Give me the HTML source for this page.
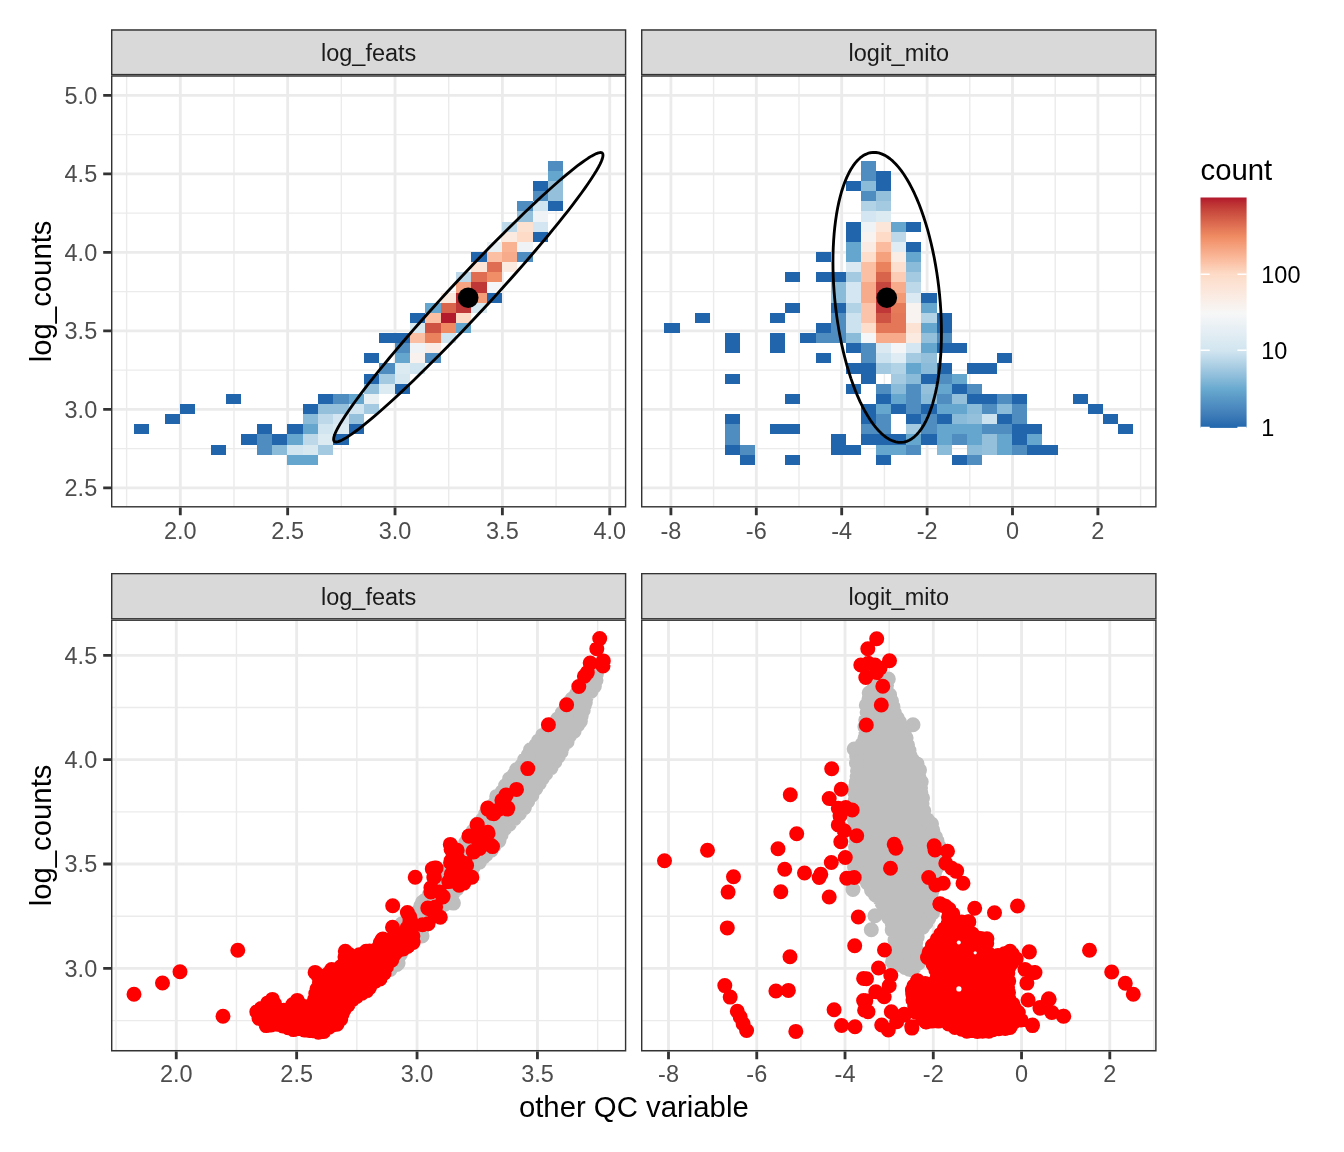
<!DOCTYPE html>
<html><head><meta charset="utf-8"><title>QC plot</title>
<style>html,body{margin:0;padding:0;background:#fff;}svg{display:block;will-change:transform;}text{font-family:"Liberation Sans", sans-serif;}</style></head><body>
<svg width="1344" height="1152" viewBox="0 0 1344 1152">
<rect x="0" y="0" width="1344" height="1152" fill="#FFFFFF"/>
<defs><linearGradient id="cb" x1="0" y1="1" x2="0" y2="0"><stop offset="0.0000" stop-color="#2166AC"/><stop offset="0.0278" stop-color="#3171B2"/><stop offset="0.0556" stop-color="#3E7CB8"/><stop offset="0.0833" stop-color="#4987BE"/><stop offset="0.1111" stop-color="#5392C3"/><stop offset="0.1389" stop-color="#5D9DC9"/><stop offset="0.1667" stop-color="#67A9CF"/><stop offset="0.1944" stop-color="#7BB3D5"/><stop offset="0.2222" stop-color="#8DBDDA"/><stop offset="0.2500" stop-color="#9FC7E0"/><stop offset="0.2778" stop-color="#B0D1E5"/><stop offset="0.3056" stop-color="#C0DBEB"/><stop offset="0.3333" stop-color="#D1E5F0"/><stop offset="0.3611" stop-color="#D7E8F1"/><stop offset="0.3889" stop-color="#DEEBF2"/><stop offset="0.4167" stop-color="#E4EEF4"/><stop offset="0.4444" stop-color="#EAF1F5"/><stop offset="0.4722" stop-color="#F1F4F6"/><stop offset="0.5000" stop-color="#F7F7F7"/><stop offset="0.5278" stop-color="#F8F2EF"/><stop offset="0.5556" stop-color="#FAEEE7"/><stop offset="0.5833" stop-color="#FBE9DF"/><stop offset="0.6111" stop-color="#FCE4D7"/><stop offset="0.6389" stop-color="#FCE0CF"/><stop offset="0.6667" stop-color="#FDDBC7"/><stop offset="0.6944" stop-color="#FCCEB6"/><stop offset="0.7222" stop-color="#FBC0A4"/><stop offset="0.7500" stop-color="#F9B393"/><stop offset="0.7778" stop-color="#F6A583"/><stop offset="0.8056" stop-color="#F39872"/><stop offset="0.8333" stop-color="#EF8A62"/><stop offset="0.8611" stop-color="#E57A58"/><stop offset="0.8889" stop-color="#DB694F"/><stop offset="0.9167" stop-color="#D15845"/><stop offset="0.9444" stop-color="#C7463C"/><stop offset="0.9722" stop-color="#BD3233"/><stop offset="1.0000" stop-color="#B2182B"/></linearGradient>
<clipPath id="p1"><rect x="111.00" y="75.30" width="515.30" height="432.20"/></clipPath>
<clipPath id="p2"><rect x="641.00" y="75.30" width="515.60" height="432.20"/></clipPath>
<clipPath id="p3"><rect x="111.00" y="619.50" width="515.30" height="431.90"/></clipPath>
<clipPath id="p4"><rect x="641.00" y="619.50" width="515.60" height="431.90"/></clipPath>
<clipPath id="s1"><rect x="111.00" y="29.30" width="515.30" height="46.00"/></clipPath>
<clipPath id="s2"><rect x="641.00" y="29.30" width="515.60" height="46.00"/></clipPath>
<clipPath id="s3"><rect x="111.00" y="572.90" width="515.30" height="46.60"/></clipPath>
<clipPath id="s4"><rect x="641.00" y="572.90" width="515.60" height="46.60"/></clipPath>
</defs>
<g clip-path="url(#p1)">
<rect x="111.00" y="75.30" width="515.30" height="432.20" fill="#FFFFFF"/>
<path d="M111.00 134.65H626.30M111.00 213.13H626.30M111.00 291.62H626.30M111.00 370.12H626.30M111.00 448.61H626.30M126.62 75.30V507.50M233.98 75.30V507.50M341.34 75.30V507.50M448.70 75.30V507.50M556.06 75.30V507.50" stroke="#EBEBEB" stroke-width="1.42" fill="none"/>
<path d="M111.00 95.40H626.30M111.00 173.89H626.30M111.00 252.38H626.30M111.00 330.87H626.30M111.00 409.36H626.30M111.00 487.85H626.30M180.30 75.30V507.50M287.66 75.30V507.50M395.02 75.30V507.50M502.38 75.30V507.50M609.74 75.30V507.50" stroke="#EBEBEB" stroke-width="2.84" fill="none"/>
<g shape-rendering="crispEdges">
<rect x="134" y="424" width="15" height="10" fill="#2166AC"/>
<rect x="165" y="414" width="15" height="10" fill="#2166AC"/>
<rect x="180" y="404" width="15" height="10" fill="#2166AC"/>
<rect x="211" y="445" width="15" height="10" fill="#2166AC"/>
<rect x="226" y="394" width="15" height="10" fill="#2166AC"/>
<rect x="241" y="434" width="16" height="11" fill="#2166AC"/>
<rect x="257" y="445" width="15" height="10" fill="#4F8DC1"/>
<rect x="257" y="434" width="15" height="11" fill="#4F8DC1"/>
<rect x="257" y="424" width="15" height="10" fill="#2166AC"/>
<rect x="272" y="445" width="15" height="10" fill="#8ABBD9"/>
<rect x="272" y="434" width="15" height="11" fill="#2166AC"/>
<rect x="287" y="455" width="16" height="10" fill="#64A6CD"/>
<rect x="287" y="445" width="16" height="10" fill="#D1E5F0"/>
<rect x="287" y="434" width="16" height="11" fill="#64A6CD"/>
<rect x="287" y="424" width="16" height="10" fill="#2166AC"/>
<rect x="303" y="455" width="15" height="10" fill="#64A6CD"/>
<rect x="303" y="445" width="15" height="10" fill="#D7E8F1"/>
<rect x="303" y="434" width="15" height="11" fill="#BDD9E9"/>
<rect x="303" y="424" width="15" height="10" fill="#64A6CD"/>
<rect x="303" y="414" width="15" height="10" fill="#8ABBD9"/>
<rect x="303" y="404" width="15" height="10" fill="#2166AC"/>
<rect x="318" y="445" width="15" height="10" fill="#A4CAE1"/>
<rect x="318" y="434" width="15" height="11" fill="#DCEAF2"/>
<rect x="318" y="424" width="15" height="10" fill="#D1E5F0"/>
<rect x="318" y="414" width="15" height="10" fill="#BDD9E9"/>
<rect x="318" y="404" width="15" height="10" fill="#94C0DC"/>
<rect x="318" y="394" width="15" height="10" fill="#2166AC"/>
<rect x="333" y="434" width="16" height="11" fill="#2166AC"/>
<rect x="333" y="424" width="16" height="10" fill="#DCEAF2"/>
<rect x="333" y="414" width="16" height="10" fill="#D4E6F1"/>
<rect x="333" y="404" width="16" height="10" fill="#94C0DC"/>
<rect x="333" y="394" width="16" height="10" fill="#4F8DC1"/>
<rect x="349" y="424" width="15" height="10" fill="#2166AC"/>
<rect x="349" y="414" width="15" height="10" fill="#94C0DC"/>
<rect x="349" y="404" width="15" height="10" fill="#D1E5F0"/>
<rect x="349" y="394" width="15" height="10" fill="#64A6CD"/>
<rect x="364" y="404" width="15" height="10" fill="#A4CAE1"/>
<rect x="364" y="394" width="15" height="10" fill="#E8F0F4"/>
<rect x="364" y="384" width="15" height="10" fill="#94C0DC"/>
<rect x="364" y="374" width="15" height="10" fill="#2166AC"/>
<rect x="364" y="353" width="15" height="10" fill="#2166AC"/>
<rect x="379" y="384" width="16" height="10" fill="#DCEAF2"/>
<rect x="379" y="374" width="16" height="10" fill="#A4CAE1"/>
<rect x="379" y="363" width="16" height="11" fill="#4F8DC1"/>
<rect x="379" y="333" width="16" height="10" fill="#2166AC"/>
<rect x="395" y="384" width="15" height="10" fill="#2166AC"/>
<rect x="395" y="374" width="15" height="10" fill="#D7E8F1"/>
<rect x="395" y="363" width="15" height="11" fill="#DCEAF2"/>
<rect x="395" y="353" width="15" height="10" fill="#64A6CD"/>
<rect x="395" y="343" width="15" height="10" fill="#4F8DC1"/>
<rect x="395" y="333" width="15" height="10" fill="#2166AC"/>
<rect x="410" y="363" width="15" height="11" fill="#D1E5F0"/>
<rect x="410" y="353" width="15" height="10" fill="#F9F1ED"/>
<rect x="410" y="343" width="15" height="10" fill="#EFF3F6"/>
<rect x="410" y="333" width="15" height="10" fill="#FBBFA3"/>
<rect x="410" y="323" width="15" height="10" fill="#D7E8F1"/>
<rect x="410" y="313" width="15" height="10" fill="#2166AC"/>
<rect x="425" y="353" width="16" height="10" fill="#4F8DC1"/>
<rect x="425" y="343" width="16" height="10" fill="#FAECE4"/>
<rect x="425" y="333" width="16" height="10" fill="#EA825D"/>
<rect x="425" y="323" width="16" height="10" fill="#CF5343"/>
<rect x="425" y="313" width="16" height="10" fill="#FBBFA3"/>
<rect x="425" y="303" width="16" height="10" fill="#64A6CD"/>
<rect x="441" y="333" width="15" height="10" fill="#D1E5F0"/>
<rect x="441" y="323" width="15" height="10" fill="#EF8A62"/>
<rect x="441" y="313" width="15" height="10" fill="#B31A2C"/>
<rect x="441" y="303" width="15" height="10" fill="#D8644C"/>
<rect x="441" y="293" width="15" height="10" fill="#FBE8DC"/>
<rect x="456" y="323" width="15" height="10" fill="#64A6CD"/>
<rect x="456" y="313" width="15" height="10" fill="#FDDBC7"/>
<rect x="456" y="303" width="15" height="10" fill="#BF3736"/>
<rect x="456" y="293" width="15" height="10" fill="#B92A30"/>
<rect x="456" y="282" width="15" height="11" fill="#F6A482"/>
<rect x="456" y="272" width="15" height="10" fill="#BDD9E9"/>
<rect x="471" y="303" width="16" height="10" fill="#D7E8F1"/>
<rect x="471" y="293" width="16" height="10" fill="#F49B77"/>
<rect x="471" y="282" width="16" height="11" fill="#BF3736"/>
<rect x="471" y="272" width="16" height="10" fill="#DE6D51"/>
<rect x="471" y="262" width="16" height="10" fill="#FCE4D6"/>
<rect x="471" y="252" width="16" height="10" fill="#2166AC"/>
<rect x="487" y="293" width="15" height="10" fill="#2166AC"/>
<rect x="487" y="282" width="15" height="11" fill="#F5F6F7"/>
<rect x="487" y="272" width="15" height="10" fill="#F08F67"/>
<rect x="487" y="262" width="15" height="10" fill="#DE6D51"/>
<rect x="487" y="252" width="15" height="10" fill="#FBBFA3"/>
<rect x="487" y="242" width="15" height="10" fill="#E8F0F4"/>
<rect x="502" y="262" width="15" height="10" fill="#FBEAE0"/>
<rect x="502" y="252" width="15" height="10" fill="#F7AB8A"/>
<rect x="502" y="242" width="15" height="10" fill="#F9B393"/>
<rect x="502" y="232" width="15" height="10" fill="#FBEAE0"/>
<rect x="502" y="222" width="15" height="10" fill="#BDD9E9"/>
<rect x="517" y="252" width="16" height="10" fill="#4F8DC1"/>
<rect x="517" y="242" width="16" height="10" fill="#EFF3F6"/>
<rect x="517" y="232" width="16" height="10" fill="#FDDBC7"/>
<rect x="517" y="222" width="16" height="10" fill="#FCE1D1"/>
<rect x="517" y="211" width="16" height="11" fill="#94C0DC"/>
<rect x="517" y="201" width="16" height="10" fill="#4F8DC1"/>
<rect x="533" y="232" width="15" height="10" fill="#2166AC"/>
<rect x="533" y="222" width="15" height="10" fill="#D4E6F1"/>
<rect x="533" y="211" width="15" height="11" fill="#EFF3F6"/>
<rect x="533" y="201" width="15" height="10" fill="#D1E5F0"/>
<rect x="533" y="191" width="15" height="10" fill="#4F8DC1"/>
<rect x="533" y="181" width="15" height="10" fill="#2166AC"/>
<rect x="548" y="201" width="15" height="10" fill="#2166AC"/>
<rect x="548" y="191" width="15" height="10" fill="#94C0DC"/>
<rect x="548" y="181" width="15" height="10" fill="#94C0DC"/>
<rect x="548" y="171" width="15" height="10" fill="#64A6CD"/>
<rect x="548" y="161" width="15" height="10" fill="#4F8DC1"/>
</g>
<path d="M603.00 155.19L602.82 153.93L602.26 153.07L601.34 152.59L600.06 152.52L598.41 152.84L596.41 153.56L594.05 154.67L591.35 156.17L588.32 158.06L584.95 160.33L581.27 162.98L577.27 165.99L572.98 169.36L568.40 173.09L563.55 177.15L558.43 181.54L553.07 186.25L547.47 191.27L541.66 196.57L535.65 202.16L529.45 208.00L523.09 214.08L516.57 220.40L509.92 226.92L503.16 233.64L496.31 240.53L489.37 247.58L482.38 254.76L475.35 262.07L468.30 269.46L461.25 276.93L454.22 284.46L447.23 292.03L440.29 299.60L433.44 307.18L426.68 314.72L420.03 322.22L413.51 329.64L407.15 336.98L400.95 344.21L394.94 351.31L389.13 358.27L383.53 365.05L378.17 371.65L373.05 378.05L368.20 384.23L363.62 390.16L359.33 395.84L355.33 401.26L351.65 406.38L348.28 411.21L345.25 415.72L342.55 419.91L340.19 423.77L338.19 427.28L336.54 430.43L335.26 433.21L334.34 435.62L333.78 437.66L333.60 439.31L333.78 440.57L334.34 441.43L335.26 441.91L336.54 441.98L338.19 441.66L340.19 440.94L342.55 439.83L345.25 438.33L348.28 436.44L351.65 434.17L355.33 431.52L359.33 428.51L363.62 425.14L368.20 421.41L373.05 417.35L378.17 412.96L383.53 408.25L389.13 403.23L394.94 397.93L400.95 392.34L407.15 386.50L413.51 380.42L420.03 374.10L426.68 367.58L433.44 360.86L440.29 353.97L447.23 346.92L454.22 339.74L461.25 332.43L468.30 325.04L475.35 317.57L482.38 310.04L489.37 302.47L496.31 294.90L503.16 287.32L509.92 279.78L516.57 272.28L523.09 264.86L529.45 257.52L535.65 250.29L541.66 243.19L547.47 236.23L553.07 229.45L558.43 222.85L563.55 216.45L568.40 210.27L572.98 204.34L577.27 198.66L581.27 193.24L584.95 188.12L588.32 183.29L591.35 178.78L594.05 174.59L596.41 170.73L598.41 167.22L600.06 164.07L601.34 161.29L602.26 158.88L602.82 156.84Z" fill="none" stroke="#000" stroke-width="2.84" stroke-linejoin="round"/>
<circle cx="468.20" cy="297.70" r="10.30" fill="#000"/>
<rect x="111.00" y="75.30" width="515.30" height="432.20" fill="none" stroke="#333333" stroke-width="2.84"/>
</g>
<g clip-path="url(#p2)">
<rect x="641.00" y="75.30" width="515.60" height="432.20" fill="#FFFFFF"/>
<path d="M641.00 134.65H1156.60M641.00 213.13H1156.60M641.00 291.62H1156.60M641.00 370.12H1156.60M641.00 448.61H1156.60M713.60 75.30V507.50M799.00 75.30V507.50M884.40 75.30V507.50M969.80 75.30V507.50M1055.20 75.30V507.50M1140.60 75.30V507.50" stroke="#EBEBEB" stroke-width="1.42" fill="none"/>
<path d="M641.00 95.40H1156.60M641.00 173.89H1156.60M641.00 252.38H1156.60M641.00 330.87H1156.60M641.00 409.36H1156.60M641.00 487.85H1156.60M670.90 75.30V507.50M756.30 75.30V507.50M841.70 75.30V507.50M927.10 75.30V507.50M1012.50 75.30V507.50M1097.90 75.30V507.50" stroke="#EBEBEB" stroke-width="2.84" fill="none"/>
<g shape-rendering="crispEdges">
<rect x="664" y="323" width="16" height="10" fill="#2166AC"/>
<rect x="695" y="313" width="15" height="10" fill="#2166AC"/>
<rect x="725" y="445" width="15" height="10" fill="#2166AC"/>
<rect x="725" y="434" width="15" height="11" fill="#4F8DC1"/>
<rect x="725" y="424" width="15" height="10" fill="#4F8DC1"/>
<rect x="725" y="414" width="15" height="10" fill="#2166AC"/>
<rect x="725" y="374" width="15" height="10" fill="#2166AC"/>
<rect x="725" y="343" width="15" height="10" fill="#2166AC"/>
<rect x="725" y="333" width="15" height="10" fill="#2166AC"/>
<rect x="740" y="455" width="15" height="10" fill="#2166AC"/>
<rect x="740" y="445" width="15" height="10" fill="#4F8DC1"/>
<rect x="770" y="424" width="15" height="10" fill="#2166AC"/>
<rect x="770" y="343" width="15" height="10" fill="#2166AC"/>
<rect x="770" y="333" width="15" height="10" fill="#2166AC"/>
<rect x="770" y="313" width="15" height="10" fill="#2166AC"/>
<rect x="785" y="455" width="15" height="10" fill="#2166AC"/>
<rect x="785" y="424" width="15" height="10" fill="#2166AC"/>
<rect x="785" y="394" width="15" height="10" fill="#2166AC"/>
<rect x="785" y="303" width="15" height="10" fill="#2166AC"/>
<rect x="785" y="272" width="15" height="10" fill="#2166AC"/>
<rect x="800" y="333" width="16" height="10" fill="#2166AC"/>
<rect x="816" y="353" width="15" height="10" fill="#2166AC"/>
<rect x="816" y="333" width="15" height="10" fill="#4F8DC1"/>
<rect x="816" y="323" width="15" height="10" fill="#2166AC"/>
<rect x="816" y="272" width="15" height="10" fill="#2166AC"/>
<rect x="816" y="252" width="15" height="10" fill="#2166AC"/>
<rect x="831" y="445" width="15" height="10" fill="#2166AC"/>
<rect x="831" y="434" width="15" height="11" fill="#2166AC"/>
<rect x="831" y="333" width="15" height="10" fill="#4F8DC1"/>
<rect x="831" y="323" width="15" height="10" fill="#4F8DC1"/>
<rect x="831" y="313" width="15" height="10" fill="#4F8DC1"/>
<rect x="831" y="303" width="15" height="10" fill="#2166AC"/>
<rect x="831" y="293" width="15" height="10" fill="#8ABBD9"/>
<rect x="831" y="282" width="15" height="11" fill="#8ABBD9"/>
<rect x="831" y="272" width="15" height="10" fill="#2166AC"/>
<rect x="846" y="445" width="15" height="10" fill="#2166AC"/>
<rect x="846" y="384" width="15" height="10" fill="#2166AC"/>
<rect x="846" y="363" width="15" height="11" fill="#2166AC"/>
<rect x="846" y="343" width="15" height="10" fill="#2166AC"/>
<rect x="846" y="333" width="15" height="10" fill="#8ABBD9"/>
<rect x="846" y="323" width="15" height="10" fill="#CCE2EE"/>
<rect x="846" y="313" width="15" height="10" fill="#CCE2EE"/>
<rect x="846" y="303" width="15" height="10" fill="#B2D2E6"/>
<rect x="846" y="293" width="15" height="10" fill="#D4E6F1"/>
<rect x="846" y="282" width="15" height="11" fill="#D4E6F1"/>
<rect x="846" y="272" width="15" height="10" fill="#A4CAE1"/>
<rect x="846" y="262" width="15" height="10" fill="#DAE9F2"/>
<rect x="846" y="252" width="15" height="10" fill="#64A6CD"/>
<rect x="846" y="242" width="15" height="10" fill="#64A6CD"/>
<rect x="846" y="232" width="15" height="10" fill="#2166AC"/>
<rect x="846" y="222" width="15" height="10" fill="#2166AC"/>
<rect x="846" y="181" width="15" height="10" fill="#2166AC"/>
<rect x="861" y="434" width="15" height="11" fill="#2166AC"/>
<rect x="861" y="424" width="15" height="10" fill="#4F8DC1"/>
<rect x="861" y="414" width="15" height="10" fill="#2166AC"/>
<rect x="861" y="404" width="15" height="10" fill="#2166AC"/>
<rect x="861" y="374" width="15" height="10" fill="#2166AC"/>
<rect x="861" y="363" width="15" height="11" fill="#2166AC"/>
<rect x="861" y="353" width="15" height="10" fill="#4F8DC1"/>
<rect x="861" y="343" width="15" height="10" fill="#4F8DC1"/>
<rect x="861" y="333" width="15" height="10" fill="#F5F6F7"/>
<rect x="861" y="323" width="15" height="10" fill="#FDDECC"/>
<rect x="861" y="313" width="15" height="10" fill="#FBC4AA"/>
<rect x="861" y="303" width="15" height="10" fill="#FBC4AA"/>
<rect x="861" y="293" width="15" height="10" fill="#F7AB8A"/>
<rect x="861" y="282" width="15" height="11" fill="#F7AB8A"/>
<rect x="861" y="272" width="15" height="10" fill="#FBBFA3"/>
<rect x="861" y="262" width="15" height="10" fill="#FBBFA3"/>
<rect x="861" y="252" width="15" height="10" fill="#FDDECC"/>
<rect x="861" y="242" width="15" height="10" fill="#FAECE4"/>
<rect x="861" y="232" width="15" height="10" fill="#F8F3F0"/>
<rect x="861" y="222" width="15" height="10" fill="#EFF3F6"/>
<rect x="861" y="211" width="15" height="11" fill="#D4E6F1"/>
<rect x="861" y="201" width="15" height="10" fill="#B2D2E6"/>
<rect x="861" y="191" width="15" height="10" fill="#4F8DC1"/>
<rect x="861" y="181" width="15" height="10" fill="#8ABBD9"/>
<rect x="861" y="171" width="15" height="10" fill="#4F8DC1"/>
<rect x="861" y="161" width="15" height="10" fill="#4F8DC1"/>
<rect x="876" y="455" width="15" height="10" fill="#2166AC"/>
<rect x="876" y="445" width="15" height="10" fill="#64A6CD"/>
<rect x="876" y="434" width="15" height="11" fill="#2166AC"/>
<rect x="876" y="424" width="15" height="10" fill="#4F8DC1"/>
<rect x="876" y="414" width="15" height="10" fill="#4F8DC1"/>
<rect x="876" y="404" width="15" height="10" fill="#64A6CD"/>
<rect x="876" y="394" width="15" height="10" fill="#2166AC"/>
<rect x="876" y="384" width="15" height="10" fill="#4F8DC1"/>
<rect x="876" y="363" width="15" height="11" fill="#A4CAE1"/>
<rect x="876" y="353" width="15" height="10" fill="#CCE2EE"/>
<rect x="876" y="343" width="15" height="10" fill="#DAE9F2"/>
<rect x="876" y="333" width="15" height="10" fill="#F7AB8A"/>
<rect x="876" y="323" width="15" height="10" fill="#E47757"/>
<rect x="876" y="313" width="15" height="10" fill="#CF5343"/>
<rect x="876" y="303" width="15" height="10" fill="#BF3736"/>
<rect x="876" y="293" width="15" height="10" fill="#BF3736"/>
<rect x="876" y="282" width="15" height="11" fill="#C6453C"/>
<rect x="876" y="272" width="15" height="10" fill="#D8644C"/>
<rect x="876" y="262" width="15" height="10" fill="#EA825D"/>
<rect x="876" y="252" width="15" height="10" fill="#F5A17E"/>
<rect x="876" y="242" width="15" height="10" fill="#FABB9E"/>
<rect x="876" y="232" width="15" height="10" fill="#FDDBC7"/>
<rect x="876" y="222" width="15" height="10" fill="#FBE6D9"/>
<rect x="876" y="211" width="15" height="11" fill="#DCEAF2"/>
<rect x="876" y="201" width="15" height="10" fill="#A4CAE1"/>
<rect x="876" y="191" width="15" height="10" fill="#94C0DC"/>
<rect x="876" y="181" width="15" height="10" fill="#2166AC"/>
<rect x="876" y="171" width="15" height="10" fill="#2166AC"/>
<rect x="891" y="445" width="15" height="10" fill="#64A6CD"/>
<rect x="891" y="434" width="15" height="11" fill="#2166AC"/>
<rect x="891" y="404" width="15" height="10" fill="#2166AC"/>
<rect x="891" y="394" width="15" height="10" fill="#64A6CD"/>
<rect x="891" y="384" width="15" height="10" fill="#8ABBD9"/>
<rect x="891" y="374" width="15" height="10" fill="#A4CAE1"/>
<rect x="891" y="363" width="15" height="11" fill="#B2D2E6"/>
<rect x="891" y="353" width="15" height="10" fill="#E0ECF3"/>
<rect x="891" y="343" width="15" height="10" fill="#F3F5F6"/>
<rect x="891" y="333" width="15" height="10" fill="#F7AB8A"/>
<rect x="891" y="323" width="15" height="10" fill="#E47757"/>
<rect x="891" y="313" width="15" height="10" fill="#E47757"/>
<rect x="891" y="303" width="15" height="10" fill="#E67B59"/>
<rect x="891" y="293" width="15" height="10" fill="#F39974"/>
<rect x="891" y="282" width="15" height="11" fill="#F7AB8A"/>
<rect x="891" y="272" width="15" height="10" fill="#FCCCB4"/>
<rect x="891" y="262" width="15" height="10" fill="#FCDFCE"/>
<rect x="891" y="252" width="15" height="10" fill="#FAEDE6"/>
<rect x="891" y="242" width="15" height="10" fill="#E0ECF3"/>
<rect x="891" y="232" width="15" height="10" fill="#BDD9E9"/>
<rect x="891" y="222" width="15" height="10" fill="#64A6CD"/>
<rect x="906" y="445" width="15" height="10" fill="#4F8DC1"/>
<rect x="906" y="434" width="15" height="11" fill="#64A6CD"/>
<rect x="906" y="424" width="15" height="10" fill="#A4CAE1"/>
<rect x="906" y="414" width="15" height="10" fill="#2166AC"/>
<rect x="906" y="404" width="15" height="10" fill="#4F8DC1"/>
<rect x="906" y="394" width="15" height="10" fill="#4F8DC1"/>
<rect x="906" y="384" width="15" height="10" fill="#4F8DC1"/>
<rect x="906" y="374" width="15" height="10" fill="#8ABBD9"/>
<rect x="906" y="363" width="15" height="11" fill="#64A6CD"/>
<rect x="906" y="353" width="15" height="10" fill="#A4CAE1"/>
<rect x="906" y="343" width="15" height="10" fill="#D4E6F1"/>
<rect x="906" y="333" width="15" height="10" fill="#FBEAE0"/>
<rect x="906" y="323" width="15" height="10" fill="#FCE2D3"/>
<rect x="906" y="313" width="15" height="10" fill="#F8F3F0"/>
<rect x="906" y="303" width="15" height="10" fill="#F8F3F0"/>
<rect x="906" y="293" width="15" height="10" fill="#DAE9F2"/>
<rect x="906" y="282" width="15" height="11" fill="#BDD9E9"/>
<rect x="906" y="272" width="15" height="10" fill="#A4CAE1"/>
<rect x="906" y="262" width="15" height="10" fill="#8ABBD9"/>
<rect x="906" y="252" width="15" height="10" fill="#64A6CD"/>
<rect x="906" y="242" width="15" height="10" fill="#2166AC"/>
<rect x="906" y="222" width="15" height="10" fill="#2166AC"/>
<rect x="921" y="434" width="16" height="11" fill="#2166AC"/>
<rect x="921" y="424" width="16" height="10" fill="#4F8DC1"/>
<rect x="921" y="414" width="16" height="10" fill="#4F8DC1"/>
<rect x="921" y="404" width="16" height="10" fill="#2166AC"/>
<rect x="921" y="394" width="16" height="10" fill="#8ABBD9"/>
<rect x="921" y="384" width="16" height="10" fill="#94C0DC"/>
<rect x="921" y="374" width="16" height="10" fill="#2166AC"/>
<rect x="921" y="363" width="16" height="11" fill="#8ABBD9"/>
<rect x="921" y="353" width="16" height="10" fill="#94C0DC"/>
<rect x="921" y="343" width="16" height="10" fill="#64A6CD"/>
<rect x="921" y="333" width="16" height="10" fill="#94C0DC"/>
<rect x="921" y="323" width="16" height="10" fill="#64A6CD"/>
<rect x="921" y="313" width="16" height="10" fill="#B2D2E6"/>
<rect x="921" y="303" width="16" height="10" fill="#64A6CD"/>
<rect x="921" y="293" width="16" height="10" fill="#2166AC"/>
<rect x="937" y="445" width="15" height="10" fill="#8ABBD9"/>
<rect x="937" y="434" width="15" height="11" fill="#64A6CD"/>
<rect x="937" y="424" width="15" height="10" fill="#64A6CD"/>
<rect x="937" y="414" width="15" height="10" fill="#2166AC"/>
<rect x="937" y="404" width="15" height="10" fill="#64A6CD"/>
<rect x="937" y="394" width="15" height="10" fill="#4F8DC1"/>
<rect x="937" y="384" width="15" height="10" fill="#64A6CD"/>
<rect x="937" y="374" width="15" height="10" fill="#4F8DC1"/>
<rect x="937" y="363" width="15" height="11" fill="#2166AC"/>
<rect x="937" y="343" width="15" height="10" fill="#2166AC"/>
<rect x="937" y="333" width="15" height="10" fill="#4F8DC1"/>
<rect x="937" y="323" width="15" height="10" fill="#2166AC"/>
<rect x="937" y="313" width="15" height="10" fill="#2166AC"/>
<rect x="952" y="455" width="15" height="10" fill="#2166AC"/>
<rect x="952" y="434" width="15" height="11" fill="#4F8DC1"/>
<rect x="952" y="424" width="15" height="10" fill="#64A6CD"/>
<rect x="952" y="414" width="15" height="10" fill="#8ABBD9"/>
<rect x="952" y="404" width="15" height="10" fill="#64A6CD"/>
<rect x="952" y="394" width="15" height="10" fill="#94C0DC"/>
<rect x="952" y="384" width="15" height="10" fill="#2166AC"/>
<rect x="952" y="374" width="15" height="10" fill="#64A6CD"/>
<rect x="952" y="343" width="15" height="10" fill="#2166AC"/>
<rect x="967" y="455" width="15" height="10" fill="#4F8DC1"/>
<rect x="967" y="445" width="15" height="10" fill="#8ABBD9"/>
<rect x="967" y="434" width="15" height="11" fill="#64A6CD"/>
<rect x="967" y="424" width="15" height="10" fill="#64A6CD"/>
<rect x="967" y="414" width="15" height="10" fill="#94C0DC"/>
<rect x="967" y="404" width="15" height="10" fill="#8ABBD9"/>
<rect x="967" y="394" width="15" height="10" fill="#2166AC"/>
<rect x="967" y="384" width="15" height="10" fill="#4F8DC1"/>
<rect x="967" y="363" width="15" height="11" fill="#2166AC"/>
<rect x="982" y="445" width="15" height="10" fill="#94C0DC"/>
<rect x="982" y="434" width="15" height="11" fill="#94C0DC"/>
<rect x="982" y="424" width="15" height="10" fill="#4F8DC1"/>
<rect x="982" y="414" width="15" height="10" fill="#CCE2EE"/>
<rect x="982" y="404" width="15" height="10" fill="#4F8DC1"/>
<rect x="982" y="394" width="15" height="10" fill="#2166AC"/>
<rect x="982" y="363" width="15" height="11" fill="#2166AC"/>
<rect x="997" y="445" width="15" height="10" fill="#64A6CD"/>
<rect x="997" y="434" width="15" height="11" fill="#64A6CD"/>
<rect x="997" y="424" width="15" height="10" fill="#4F8DC1"/>
<rect x="997" y="414" width="15" height="10" fill="#2166AC"/>
<rect x="997" y="404" width="15" height="10" fill="#8ABBD9"/>
<rect x="997" y="394" width="15" height="10" fill="#4F8DC1"/>
<rect x="997" y="353" width="15" height="10" fill="#2166AC"/>
<rect x="1012" y="445" width="15" height="10" fill="#4F8DC1"/>
<rect x="1012" y="434" width="15" height="11" fill="#2166AC"/>
<rect x="1012" y="424" width="15" height="10" fill="#2166AC"/>
<rect x="1012" y="414" width="15" height="10" fill="#4F8DC1"/>
<rect x="1012" y="404" width="15" height="10" fill="#4F8DC1"/>
<rect x="1012" y="394" width="15" height="10" fill="#2166AC"/>
<rect x="1027" y="445" width="15" height="10" fill="#2166AC"/>
<rect x="1027" y="434" width="15" height="11" fill="#64A6CD"/>
<rect x="1027" y="424" width="15" height="10" fill="#2166AC"/>
<rect x="1042" y="445" width="16" height="10" fill="#2166AC"/>
<rect x="1073" y="394" width="15" height="10" fill="#2166AC"/>
<rect x="1088" y="404" width="15" height="10" fill="#2166AC"/>
<rect x="1103" y="414" width="15" height="10" fill="#2166AC"/>
<rect x="1118" y="424" width="15" height="10" fill="#2166AC"/>
</g>
<path d="M941.45 332.63L941.38 325.23L941.15 317.74L940.78 310.20L940.26 302.62L939.60 295.03L938.79 287.45L937.85 279.89L936.76 272.38L935.54 264.94L934.18 257.59L932.70 250.35L931.09 243.23L929.36 236.27L927.52 229.47L925.56 222.86L923.50 216.45L921.34 210.27L919.09 204.32L916.75 198.63L914.33 193.21L911.83 188.07L909.27 183.24L906.64 178.72L903.96 174.52L901.24 170.66L898.48 167.15L895.69 163.99L892.87 161.20L890.04 158.78L887.20 156.75L884.36 155.09L881.53 153.83L878.71 152.97L875.92 152.49L873.16 152.42L870.44 152.74L867.76 153.46L865.13 154.57L862.57 156.08L860.08 157.97L857.65 160.25L855.31 162.90L853.06 165.92L850.90 169.30L848.84 173.03L846.88 177.10L845.04 181.50L843.31 186.22L841.70 191.24L840.22 196.56L838.86 202.15L837.64 208.00L836.55 214.10L835.61 220.43L834.80 226.96L834.14 233.69L833.62 240.60L833.25 247.66L833.02 254.85L832.95 262.16L833.02 269.57L833.25 277.06L833.62 284.60L834.14 292.18L834.80 299.77L835.61 307.35L836.55 314.91L837.64 322.42L838.86 329.86L840.22 337.21L841.70 344.45L843.31 351.57L845.04 358.53L846.88 365.33L848.84 371.94L850.90 378.35L853.06 384.53L855.31 390.48L857.65 396.17L860.08 401.59L862.57 406.73L865.13 411.56L867.76 416.08L870.44 420.28L873.16 424.14L875.92 427.65L878.71 430.81L881.53 433.60L884.36 436.02L887.20 438.05L890.04 439.71L892.87 440.97L895.69 441.83L898.48 442.31L901.24 442.38L903.96 442.06L906.64 441.34L909.27 440.23L911.83 438.72L914.33 436.83L916.75 434.55L919.09 431.90L921.34 428.88L923.50 425.50L925.56 421.77L927.52 417.70L929.36 413.30L931.09 408.58L932.70 403.56L934.18 398.24L935.54 392.65L936.76 386.80L937.85 380.70L938.79 374.37L939.60 367.84L940.26 361.11L940.78 354.20L941.15 347.14L941.38 339.95Z" fill="none" stroke="#000" stroke-width="2.84" stroke-linejoin="round"/>
<circle cx="886.80" cy="297.70" r="10.30" fill="#000"/>
<rect x="641.00" y="75.30" width="515.60" height="432.20" fill="none" stroke="#333333" stroke-width="2.84"/>
</g>
<g clip-path="url(#p3)">
<rect x="111.00" y="619.50" width="515.30" height="431.90" fill="#FFFFFF"/>
<path d="M111.00 707.48H626.30M111.00 811.86H626.30M111.00 916.22H626.30M111.00 1020.60H626.30M116.05 619.50V1051.40M236.45 619.50V1051.40M356.85 619.50V1051.40M477.25 619.50V1051.40M597.65 619.50V1051.40" stroke="#EBEBEB" stroke-width="1.42" fill="none"/>
<path d="M111.00 655.30H626.30M111.00 759.67H626.30M111.00 864.04H626.30M111.00 968.41H626.30M176.25 619.50V1051.40M296.65 619.50V1051.40M417.05 619.50V1051.40M537.45 619.50V1051.40" stroke="#EBEBEB" stroke-width="2.84" fill="none"/>
<path d="M385.6 950.9L404.4 929.9L425.6 899.9L445.6 870.9L465.6 842.9L485.6 813.9L505.6 785.5L509.6 778.9L524.6 759.9L538.6 740.9L562.3 712.9L576.6 693.9L593.6 676.9L596.4 674.1L594.4 686.1L586.1 697.6L584.4 705.1L580.4 721.1L570.0 735.1L562.4 747.1L558.4 756.1L551.1 767.6L542.4 778.1L539.4 783.1L524.4 807.6L509.4 824.1L494.4 845.1L479.4 862.1L449.4 899.1L419.4 931.1L396.9 959.1L384.4 967.1Z" fill="#BEBEBE" stroke="#BEBEBE" stroke-width="6.75" stroke-linejoin="round"/>
<path d="M385.6 950.9m-7.5 0a7.5 7.5 0 1 0 15.0 0a7.5 7.5 0 1 0 -15.0 0M389.4 946.5m-7.5 0a7.5 7.5 0 1 0 15.0 0a7.5 7.5 0 1 0 -15.0 0M395.6 939.8m-7.5 0a7.5 7.5 0 1 0 15.0 0a7.5 7.5 0 1 0 -15.0 0M399.7 935.0m-7.5 0a7.5 7.5 0 1 0 15.0 0a7.5 7.5 0 1 0 -15.0 0M404.4 929.9m-7.5 0a7.5 7.5 0 1 0 15.0 0a7.5 7.5 0 1 0 -15.0 0M409.0 924.6m-7.5 0a7.5 7.5 0 1 0 15.0 0a7.5 7.5 0 1 0 -15.0 0M411.9 916.7m-7.5 0a7.5 7.5 0 1 0 15.0 0a7.5 7.5 0 1 0 -15.0 0M417.9 911.7m-7.5 0a7.5 7.5 0 1 0 15.0 0a7.5 7.5 0 1 0 -15.0 0M422.0 904.7m-7.5 0a7.5 7.5 0 1 0 15.0 0a7.5 7.5 0 1 0 -15.0 0M425.6 899.9m-7.5 0a7.5 7.5 0 1 0 15.0 0a7.5 7.5 0 1 0 -15.0 0M429.5 894.6m-7.5 0a7.5 7.5 0 1 0 15.0 0a7.5 7.5 0 1 0 -15.0 0M433.0 889.3m-7.5 0a7.5 7.5 0 1 0 15.0 0a7.5 7.5 0 1 0 -15.0 0M438.6 881.3m-7.5 0a7.5 7.5 0 1 0 15.0 0a7.5 7.5 0 1 0 -15.0 0M440.5 876.8m-7.5 0a7.5 7.5 0 1 0 15.0 0a7.5 7.5 0 1 0 -15.0 0M445.6 870.9m-7.5 0a7.5 7.5 0 1 0 15.0 0a7.5 7.5 0 1 0 -15.0 0M450.7 865.0m-7.5 0a7.5 7.5 0 1 0 15.0 0a7.5 7.5 0 1 0 -15.0 0M452.9 859.5m-7.5 0a7.5 7.5 0 1 0 15.0 0a7.5 7.5 0 1 0 -15.0 0M456.5 853.4m-7.5 0a7.5 7.5 0 1 0 15.0 0a7.5 7.5 0 1 0 -15.0 0M461.5 848.5m-7.5 0a7.5 7.5 0 1 0 15.0 0a7.5 7.5 0 1 0 -15.0 0M465.6 842.9m-7.5 0a7.5 7.5 0 1 0 15.0 0a7.5 7.5 0 1 0 -15.0 0M469.0 836.4m-7.5 0a7.5 7.5 0 1 0 15.0 0a7.5 7.5 0 1 0 -15.0 0M473.0 831.2m-7.5 0a7.5 7.5 0 1 0 15.0 0a7.5 7.5 0 1 0 -15.0 0M477.1 824.3m-7.5 0a7.5 7.5 0 1 0 15.0 0a7.5 7.5 0 1 0 -15.0 0M482.4 819.8m-7.5 0a7.5 7.5 0 1 0 15.0 0a7.5 7.5 0 1 0 -15.0 0M485.6 813.9m-7.5 0a7.5 7.5 0 1 0 15.0 0a7.5 7.5 0 1 0 -15.0 0M490.0 807.4m-7.5 0a7.5 7.5 0 1 0 15.0 0a7.5 7.5 0 1 0 -15.0 0M494.8 803.4m-7.5 0a7.5 7.5 0 1 0 15.0 0a7.5 7.5 0 1 0 -15.0 0M496.7 796.4m-7.5 0a7.5 7.5 0 1 0 15.0 0a7.5 7.5 0 1 0 -15.0 0M502.2 791.7m-7.5 0a7.5 7.5 0 1 0 15.0 0a7.5 7.5 0 1 0 -15.0 0M505.6 785.5m-7.5 0a7.5 7.5 0 1 0 15.0 0a7.5 7.5 0 1 0 -15.0 0M508.7 782.0m-7.5 0a7.5 7.5 0 1 0 15.0 0a7.5 7.5 0 1 0 -15.0 0M509.6 778.9m-7.5 0a7.5 7.5 0 1 0 15.0 0a7.5 7.5 0 1 0 -15.0 0M514.2 774.5m-7.5 0a7.5 7.5 0 1 0 15.0 0a7.5 7.5 0 1 0 -15.0 0M516.7 769.6m-7.5 0a7.5 7.5 0 1 0 15.0 0a7.5 7.5 0 1 0 -15.0 0M521.8 765.5m-7.5 0a7.5 7.5 0 1 0 15.0 0a7.5 7.5 0 1 0 -15.0 0M524.6 759.9m-7.5 0a7.5 7.5 0 1 0 15.0 0a7.5 7.5 0 1 0 -15.0 0M528.1 755.3m-7.5 0a7.5 7.5 0 1 0 15.0 0a7.5 7.5 0 1 0 -15.0 0M530.5 749.8m-7.5 0a7.5 7.5 0 1 0 15.0 0a7.5 7.5 0 1 0 -15.0 0M535.8 745.4m-7.5 0a7.5 7.5 0 1 0 15.0 0a7.5 7.5 0 1 0 -15.0 0M538.6 740.9m-7.5 0a7.5 7.5 0 1 0 15.0 0a7.5 7.5 0 1 0 -15.0 0M542.6 735.4m-7.5 0a7.5 7.5 0 1 0 15.0 0a7.5 7.5 0 1 0 -15.0 0M548.6 730.1m-7.5 0a7.5 7.5 0 1 0 15.0 0a7.5 7.5 0 1 0 -15.0 0M552.5 723.9m-7.5 0a7.5 7.5 0 1 0 15.0 0a7.5 7.5 0 1 0 -15.0 0M557.6 719.1m-7.5 0a7.5 7.5 0 1 0 15.0 0a7.5 7.5 0 1 0 -15.0 0M562.3 712.9m-7.5 0a7.5 7.5 0 1 0 15.0 0a7.5 7.5 0 1 0 -15.0 0M566.0 707.9m-7.5 0a7.5 7.5 0 1 0 15.0 0a7.5 7.5 0 1 0 -15.0 0M569.5 702.2m-7.5 0a7.5 7.5 0 1 0 15.0 0a7.5 7.5 0 1 0 -15.0 0M572.0 699.1m-7.5 0a7.5 7.5 0 1 0 15.0 0a7.5 7.5 0 1 0 -15.0 0M576.6 693.9m-7.5 0a7.5 7.5 0 1 0 15.0 0a7.5 7.5 0 1 0 -15.0 0M582.0 689.8m-7.5 0a7.5 7.5 0 1 0 15.0 0a7.5 7.5 0 1 0 -15.0 0M584.9 684.6m-7.5 0a7.5 7.5 0 1 0 15.0 0a7.5 7.5 0 1 0 -15.0 0M589.4 682.3m-7.5 0a7.5 7.5 0 1 0 15.0 0a7.5 7.5 0 1 0 -15.0 0M593.6 676.9m-7.5 0a7.5 7.5 0 1 0 15.0 0a7.5 7.5 0 1 0 -15.0 0M596.4 674.1m-7.5 0a7.5 7.5 0 1 0 15.0 0a7.5 7.5 0 1 0 -15.0 0M596.0 680.2m-7.5 0a7.5 7.5 0 1 0 15.0 0a7.5 7.5 0 1 0 -15.0 0M594.4 686.1m-7.5 0a7.5 7.5 0 1 0 15.0 0a7.5 7.5 0 1 0 -15.0 0M591.1 691.2m-7.5 0a7.5 7.5 0 1 0 15.0 0a7.5 7.5 0 1 0 -15.0 0M586.1 697.6m-7.5 0a7.5 7.5 0 1 0 15.0 0a7.5 7.5 0 1 0 -15.0 0M585.3 702.5m-7.5 0a7.5 7.5 0 1 0 15.0 0a7.5 7.5 0 1 0 -15.0 0M584.4 705.1m-7.5 0a7.5 7.5 0 1 0 15.0 0a7.5 7.5 0 1 0 -15.0 0M583.2 710.4m-7.5 0a7.5 7.5 0 1 0 15.0 0a7.5 7.5 0 1 0 -15.0 0M581.2 715.9m-7.5 0a7.5 7.5 0 1 0 15.0 0a7.5 7.5 0 1 0 -15.0 0M580.4 721.1m-7.5 0a7.5 7.5 0 1 0 15.0 0a7.5 7.5 0 1 0 -15.0 0M578.0 724.6m-7.5 0a7.5 7.5 0 1 0 15.0 0a7.5 7.5 0 1 0 -15.0 0M574.1 731.2m-7.5 0a7.5 7.5 0 1 0 15.0 0a7.5 7.5 0 1 0 -15.0 0M570.0 735.1m-7.5 0a7.5 7.5 0 1 0 15.0 0a7.5 7.5 0 1 0 -15.0 0M567.1 741.7m-7.5 0a7.5 7.5 0 1 0 15.0 0a7.5 7.5 0 1 0 -15.0 0M562.4 747.1m-7.5 0a7.5 7.5 0 1 0 15.0 0a7.5 7.5 0 1 0 -15.0 0M561.1 751.7m-7.5 0a7.5 7.5 0 1 0 15.0 0a7.5 7.5 0 1 0 -15.0 0M558.4 756.1m-7.5 0a7.5 7.5 0 1 0 15.0 0a7.5 7.5 0 1 0 -15.0 0M554.9 761.7m-7.5 0a7.5 7.5 0 1 0 15.0 0a7.5 7.5 0 1 0 -15.0 0M551.1 767.6m-7.5 0a7.5 7.5 0 1 0 15.0 0a7.5 7.5 0 1 0 -15.0 0M545.7 773.8m-7.5 0a7.5 7.5 0 1 0 15.0 0a7.5 7.5 0 1 0 -15.0 0M542.4 778.1m-7.5 0a7.5 7.5 0 1 0 15.0 0a7.5 7.5 0 1 0 -15.0 0M539.4 783.1m-7.5 0a7.5 7.5 0 1 0 15.0 0a7.5 7.5 0 1 0 -15.0 0M535.8 788.5m-7.5 0a7.5 7.5 0 1 0 15.0 0a7.5 7.5 0 1 0 -15.0 0M531.9 795.3m-7.5 0a7.5 7.5 0 1 0 15.0 0a7.5 7.5 0 1 0 -15.0 0M527.8 801.1m-7.5 0a7.5 7.5 0 1 0 15.0 0a7.5 7.5 0 1 0 -15.0 0M524.4 807.6m-7.5 0a7.5 7.5 0 1 0 15.0 0a7.5 7.5 0 1 0 -15.0 0M519.5 813.4m-7.5 0a7.5 7.5 0 1 0 15.0 0a7.5 7.5 0 1 0 -15.0 0M514.6 818.5m-7.5 0a7.5 7.5 0 1 0 15.0 0a7.5 7.5 0 1 0 -15.0 0M509.4 824.1m-7.5 0a7.5 7.5 0 1 0 15.0 0a7.5 7.5 0 1 0 -15.0 0M504.5 828.7m-7.5 0a7.5 7.5 0 1 0 15.0 0a7.5 7.5 0 1 0 -15.0 0M501.1 834.8m-7.5 0a7.5 7.5 0 1 0 15.0 0a7.5 7.5 0 1 0 -15.0 0M499.0 840.6m-7.5 0a7.5 7.5 0 1 0 15.0 0a7.5 7.5 0 1 0 -15.0 0M494.4 845.1m-7.5 0a7.5 7.5 0 1 0 15.0 0a7.5 7.5 0 1 0 -15.0 0M491.3 850.1m-7.5 0a7.5 7.5 0 1 0 15.0 0a7.5 7.5 0 1 0 -15.0 0M486.3 854.4m-7.5 0a7.5 7.5 0 1 0 15.0 0a7.5 7.5 0 1 0 -15.0 0M483.5 856.9m-7.5 0a7.5 7.5 0 1 0 15.0 0a7.5 7.5 0 1 0 -15.0 0M479.4 862.1m-7.5 0a7.5 7.5 0 1 0 15.0 0a7.5 7.5 0 1 0 -15.0 0M473.9 866.2m-7.5 0a7.5 7.5 0 1 0 15.0 0a7.5 7.5 0 1 0 -15.0 0M471.4 872.1m-7.5 0a7.5 7.5 0 1 0 15.0 0a7.5 7.5 0 1 0 -15.0 0M465.6 878.3m-7.5 0a7.5 7.5 0 1 0 15.0 0a7.5 7.5 0 1 0 -15.0 0M461.9 882.2m-7.5 0a7.5 7.5 0 1 0 15.0 0a7.5 7.5 0 1 0 -15.0 0M457.1 888.6m-7.5 0a7.5 7.5 0 1 0 15.0 0a7.5 7.5 0 1 0 -15.0 0M452.9 893.3m-7.5 0a7.5 7.5 0 1 0 15.0 0a7.5 7.5 0 1 0 -15.0 0M449.4 899.1m-7.5 0a7.5 7.5 0 1 0 15.0 0a7.5 7.5 0 1 0 -15.0 0M444.9 904.3m-7.5 0a7.5 7.5 0 1 0 15.0 0a7.5 7.5 0 1 0 -15.0 0M438.9 909.7m-7.5 0a7.5 7.5 0 1 0 15.0 0a7.5 7.5 0 1 0 -15.0 0M433.2 914.9m-7.5 0a7.5 7.5 0 1 0 15.0 0a7.5 7.5 0 1 0 -15.0 0M429.2 919.7m-7.5 0a7.5 7.5 0 1 0 15.0 0a7.5 7.5 0 1 0 -15.0 0M423.4 926.8m-7.5 0a7.5 7.5 0 1 0 15.0 0a7.5 7.5 0 1 0 -15.0 0M419.4 931.1m-7.5 0a7.5 7.5 0 1 0 15.0 0a7.5 7.5 0 1 0 -15.0 0M414.9 936.0m-7.5 0a7.5 7.5 0 1 0 15.0 0a7.5 7.5 0 1 0 -15.0 0M410.6 943.1m-7.5 0a7.5 7.5 0 1 0 15.0 0a7.5 7.5 0 1 0 -15.0 0M404.7 946.8m-7.5 0a7.5 7.5 0 1 0 15.0 0a7.5 7.5 0 1 0 -15.0 0M400.5 954.1m-7.5 0a7.5 7.5 0 1 0 15.0 0a7.5 7.5 0 1 0 -15.0 0M396.9 959.1m-7.5 0a7.5 7.5 0 1 0 15.0 0a7.5 7.5 0 1 0 -15.0 0M389.8 963.6m-7.5 0a7.5 7.5 0 1 0 15.0 0a7.5 7.5 0 1 0 -15.0 0M384.4 967.1m-7.5 0a7.5 7.5 0 1 0 15.0 0a7.5 7.5 0 1 0 -15.0 0M385.2 961.8m-7.5 0a7.5 7.5 0 1 0 15.0 0a7.5 7.5 0 1 0 -15.0 0M384.5 957.4m-7.5 0a7.5 7.5 0 1 0 15.0 0a7.5 7.5 0 1 0 -15.0 0" fill="#BEBEBE"/>
<path d="M396.8 964.4m-7.5 0a7.5 7.5 0 1 0 15.0 0a7.5 7.5 0 1 0 -15.0 0M390.2 969.5m-7.5 0a7.5 7.5 0 1 0 15.0 0a7.5 7.5 0 1 0 -15.0 0M419.4 935.2m-7.5 0a7.5 7.5 0 1 0 15.0 0a7.5 7.5 0 1 0 -15.0 0M403.3 923.5m-7.5 0a7.5 7.5 0 1 0 15.0 0a7.5 7.5 0 1 0 -15.0 0M420.8 906.0m-7.5 0a7.5 7.5 0 1 0 15.0 0a7.5 7.5 0 1 0 -15.0 0M453.4 903.1m-7.5 0a7.5 7.5 0 1 0 15.0 0a7.5 7.5 0 1 0 -15.0 0M422.0 936.0m-7.5 0a7.5 7.5 0 1 0 15.0 0a7.5 7.5 0 1 0 -15.0 0M398.1 963.1m-7.5 0a7.5 7.5 0 1 0 15.0 0a7.5 7.5 0 1 0 -15.0 0M416.9 914.4m-7.5 0a7.5 7.5 0 1 0 15.0 0a7.5 7.5 0 1 0 -15.0 0M401.9 923.8m-7.5 0a7.5 7.5 0 1 0 15.0 0a7.5 7.5 0 1 0 -15.0 0M422.5 902.2m-7.5 0a7.5 7.5 0 1 0 15.0 0a7.5 7.5 0 1 0 -15.0 0" fill="#BEBEBE"/>
<path d="M256.8 1011.8L272.4 999.4L276.5 1008.1L290.3 1011.0L297.3 1000.4L304.2 1011.0L313.6 1003.8L315.8 993.5L319.5 982.6L315.1 972.4L323.9 977.5L331.6 969.5L339.2 971.7L345.0 962.9L345.3 951.3L353.8 958.5L366.1 951.3L374.2 952.7L382.9 938.9L394.6 939.6L403.3 933.8L409.9 921.4L407.4 912.6L410.3 920.0L411.2 929.4L412.8 941.0L407.7 946.1L394.6 954.2L380.0 979.0L372.0 983.3L366.9 990.6L356.7 996.5L347.9 1005.2L342.1 1014.0L337.0 1024.2L329.0 1027.1L323.9 1031.5L312.9 1030.7L304.2 1030.0L288.1 1027.8L277.2 1024.2L266.2 1025.6L259.0 1018.3Z" fill="#FF0000" stroke="#FF0000" stroke-width="6.75" stroke-linejoin="round"/>
<path d="M256.8 1011.8m-7.5 0a7.5 7.5 0 1 0 15.0 0a7.5 7.5 0 1 0 -15.0 0M261.1 1008.5m-7.5 0a7.5 7.5 0 1 0 15.0 0a7.5 7.5 0 1 0 -15.0 0M267.8 1002.9m-7.5 0a7.5 7.5 0 1 0 15.0 0a7.5 7.5 0 1 0 -15.0 0M272.4 999.4m-7.5 0a7.5 7.5 0 1 0 15.0 0a7.5 7.5 0 1 0 -15.0 0M274.4 1003.6m-7.5 0a7.5 7.5 0 1 0 15.0 0a7.5 7.5 0 1 0 -15.0 0M276.5 1008.1m-7.5 0a7.5 7.5 0 1 0 15.0 0a7.5 7.5 0 1 0 -15.0 0M283.8 1010.2m-7.5 0a7.5 7.5 0 1 0 15.0 0a7.5 7.5 0 1 0 -15.0 0M290.3 1011.0m-7.5 0a7.5 7.5 0 1 0 15.0 0a7.5 7.5 0 1 0 -15.0 0M292.8 1004.6m-7.5 0a7.5 7.5 0 1 0 15.0 0a7.5 7.5 0 1 0 -15.0 0M297.3 1000.4m-7.5 0a7.5 7.5 0 1 0 15.0 0a7.5 7.5 0 1 0 -15.0 0M301.6 1005.5m-7.5 0a7.5 7.5 0 1 0 15.0 0a7.5 7.5 0 1 0 -15.0 0M304.2 1011.0m-7.5 0a7.5 7.5 0 1 0 15.0 0a7.5 7.5 0 1 0 -15.0 0M309.5 1006.2m-7.5 0a7.5 7.5 0 1 0 15.0 0a7.5 7.5 0 1 0 -15.0 0M313.6 1003.8m-7.5 0a7.5 7.5 0 1 0 15.0 0a7.5 7.5 0 1 0 -15.0 0M314.6 999.2m-7.5 0a7.5 7.5 0 1 0 15.0 0a7.5 7.5 0 1 0 -15.0 0M315.8 993.5m-7.5 0a7.5 7.5 0 1 0 15.0 0a7.5 7.5 0 1 0 -15.0 0M317.0 989.1m-7.5 0a7.5 7.5 0 1 0 15.0 0a7.5 7.5 0 1 0 -15.0 0M319.5 982.6m-7.5 0a7.5 7.5 0 1 0 15.0 0a7.5 7.5 0 1 0 -15.0 0M318.3 976.4m-7.5 0a7.5 7.5 0 1 0 15.0 0a7.5 7.5 0 1 0 -15.0 0M315.1 972.4m-7.5 0a7.5 7.5 0 1 0 15.0 0a7.5 7.5 0 1 0 -15.0 0M318.4 975.0m-7.5 0a7.5 7.5 0 1 0 15.0 0a7.5 7.5 0 1 0 -15.0 0M323.9 977.5m-7.5 0a7.5 7.5 0 1 0 15.0 0a7.5 7.5 0 1 0 -15.0 0M328.8 973.2m-7.5 0a7.5 7.5 0 1 0 15.0 0a7.5 7.5 0 1 0 -15.0 0M331.6 969.5m-7.5 0a7.5 7.5 0 1 0 15.0 0a7.5 7.5 0 1 0 -15.0 0M334.7 970.4m-7.5 0a7.5 7.5 0 1 0 15.0 0a7.5 7.5 0 1 0 -15.0 0M339.2 971.7m-7.5 0a7.5 7.5 0 1 0 15.0 0a7.5 7.5 0 1 0 -15.0 0M341.0 966.6m-7.5 0a7.5 7.5 0 1 0 15.0 0a7.5 7.5 0 1 0 -15.0 0M345.0 962.9m-7.5 0a7.5 7.5 0 1 0 15.0 0a7.5 7.5 0 1 0 -15.0 0M345.0 957.1m-7.5 0a7.5 7.5 0 1 0 15.0 0a7.5 7.5 0 1 0 -15.0 0M345.3 951.3m-7.5 0a7.5 7.5 0 1 0 15.0 0a7.5 7.5 0 1 0 -15.0 0M348.9 954.3m-7.5 0a7.5 7.5 0 1 0 15.0 0a7.5 7.5 0 1 0 -15.0 0M353.8 958.5m-7.5 0a7.5 7.5 0 1 0 15.0 0a7.5 7.5 0 1 0 -15.0 0M359.3 954.8m-7.5 0a7.5 7.5 0 1 0 15.0 0a7.5 7.5 0 1 0 -15.0 0M366.1 951.3m-7.5 0a7.5 7.5 0 1 0 15.0 0a7.5 7.5 0 1 0 -15.0 0M369.6 950.9m-7.5 0a7.5 7.5 0 1 0 15.0 0a7.5 7.5 0 1 0 -15.0 0M374.2 952.7m-7.5 0a7.5 7.5 0 1 0 15.0 0a7.5 7.5 0 1 0 -15.0 0M377.9 948.2m-7.5 0a7.5 7.5 0 1 0 15.0 0a7.5 7.5 0 1 0 -15.0 0M380.3 942.7m-7.5 0a7.5 7.5 0 1 0 15.0 0a7.5 7.5 0 1 0 -15.0 0M382.9 938.9m-7.5 0a7.5 7.5 0 1 0 15.0 0a7.5 7.5 0 1 0 -15.0 0M389.9 940.1m-7.5 0a7.5 7.5 0 1 0 15.0 0a7.5 7.5 0 1 0 -15.0 0M394.6 939.6m-7.5 0a7.5 7.5 0 1 0 15.0 0a7.5 7.5 0 1 0 -15.0 0M398.0 936.3m-7.5 0a7.5 7.5 0 1 0 15.0 0a7.5 7.5 0 1 0 -15.0 0M403.3 933.8m-7.5 0a7.5 7.5 0 1 0 15.0 0a7.5 7.5 0 1 0 -15.0 0M407.1 928.1m-7.5 0a7.5 7.5 0 1 0 15.0 0a7.5 7.5 0 1 0 -15.0 0M409.9 921.4m-7.5 0a7.5 7.5 0 1 0 15.0 0a7.5 7.5 0 1 0 -15.0 0M409.7 916.8m-7.5 0a7.5 7.5 0 1 0 15.0 0a7.5 7.5 0 1 0 -15.0 0M407.4 912.6m-7.5 0a7.5 7.5 0 1 0 15.0 0a7.5 7.5 0 1 0 -15.0 0M409.6 916.7m-7.5 0a7.5 7.5 0 1 0 15.0 0a7.5 7.5 0 1 0 -15.0 0M410.3 920.0m-7.5 0a7.5 7.5 0 1 0 15.0 0a7.5 7.5 0 1 0 -15.0 0M410.3 924.9m-7.5 0a7.5 7.5 0 1 0 15.0 0a7.5 7.5 0 1 0 -15.0 0M411.2 929.4m-7.5 0a7.5 7.5 0 1 0 15.0 0a7.5 7.5 0 1 0 -15.0 0M412.9 936.0m-7.5 0a7.5 7.5 0 1 0 15.0 0a7.5 7.5 0 1 0 -15.0 0M412.8 941.0m-7.5 0a7.5 7.5 0 1 0 15.0 0a7.5 7.5 0 1 0 -15.0 0M407.7 946.1m-7.5 0a7.5 7.5 0 1 0 15.0 0a7.5 7.5 0 1 0 -15.0 0M403.3 949.0m-7.5 0a7.5 7.5 0 1 0 15.0 0a7.5 7.5 0 1 0 -15.0 0M397.8 950.9m-7.5 0a7.5 7.5 0 1 0 15.0 0a7.5 7.5 0 1 0 -15.0 0M394.6 954.2m-7.5 0a7.5 7.5 0 1 0 15.0 0a7.5 7.5 0 1 0 -15.0 0M391.7 960.2m-7.5 0a7.5 7.5 0 1 0 15.0 0a7.5 7.5 0 1 0 -15.0 0M386.5 966.7m-7.5 0a7.5 7.5 0 1 0 15.0 0a7.5 7.5 0 1 0 -15.0 0M384.1 973.2m-7.5 0a7.5 7.5 0 1 0 15.0 0a7.5 7.5 0 1 0 -15.0 0M380.0 979.0m-7.5 0a7.5 7.5 0 1 0 15.0 0a7.5 7.5 0 1 0 -15.0 0M375.7 981.0m-7.5 0a7.5 7.5 0 1 0 15.0 0a7.5 7.5 0 1 0 -15.0 0M372.0 983.3m-7.5 0a7.5 7.5 0 1 0 15.0 0a7.5 7.5 0 1 0 -15.0 0M369.5 987.6m-7.5 0a7.5 7.5 0 1 0 15.0 0a7.5 7.5 0 1 0 -15.0 0M366.9 990.6m-7.5 0a7.5 7.5 0 1 0 15.0 0a7.5 7.5 0 1 0 -15.0 0M361.9 993.3m-7.5 0a7.5 7.5 0 1 0 15.0 0a7.5 7.5 0 1 0 -15.0 0M356.7 996.5m-7.5 0a7.5 7.5 0 1 0 15.0 0a7.5 7.5 0 1 0 -15.0 0M352.3 999.7m-7.5 0a7.5 7.5 0 1 0 15.0 0a7.5 7.5 0 1 0 -15.0 0M347.9 1005.2m-7.5 0a7.5 7.5 0 1 0 15.0 0a7.5 7.5 0 1 0 -15.0 0M343.9 1010.1m-7.5 0a7.5 7.5 0 1 0 15.0 0a7.5 7.5 0 1 0 -15.0 0M342.1 1014.0m-7.5 0a7.5 7.5 0 1 0 15.0 0a7.5 7.5 0 1 0 -15.0 0M340.7 1019.3m-7.5 0a7.5 7.5 0 1 0 15.0 0a7.5 7.5 0 1 0 -15.0 0M337.0 1024.2m-7.5 0a7.5 7.5 0 1 0 15.0 0a7.5 7.5 0 1 0 -15.0 0M332.7 1024.9m-7.5 0a7.5 7.5 0 1 0 15.0 0a7.5 7.5 0 1 0 -15.0 0M329.0 1027.1m-7.5 0a7.5 7.5 0 1 0 15.0 0a7.5 7.5 0 1 0 -15.0 0M323.9 1031.5m-7.5 0a7.5 7.5 0 1 0 15.0 0a7.5 7.5 0 1 0 -15.0 0M318.4 1032.3m-7.5 0a7.5 7.5 0 1 0 15.0 0a7.5 7.5 0 1 0 -15.0 0M312.9 1030.7m-7.5 0a7.5 7.5 0 1 0 15.0 0a7.5 7.5 0 1 0 -15.0 0M309.2 1030.4m-7.5 0a7.5 7.5 0 1 0 15.0 0a7.5 7.5 0 1 0 -15.0 0M304.2 1030.0m-7.5 0a7.5 7.5 0 1 0 15.0 0a7.5 7.5 0 1 0 -15.0 0M299.7 1028.6m-7.5 0a7.5 7.5 0 1 0 15.0 0a7.5 7.5 0 1 0 -15.0 0M293.5 1029.6m-7.5 0a7.5 7.5 0 1 0 15.0 0a7.5 7.5 0 1 0 -15.0 0M288.1 1027.8m-7.5 0a7.5 7.5 0 1 0 15.0 0a7.5 7.5 0 1 0 -15.0 0M282.8 1025.9m-7.5 0a7.5 7.5 0 1 0 15.0 0a7.5 7.5 0 1 0 -15.0 0M277.2 1024.2m-7.5 0a7.5 7.5 0 1 0 15.0 0a7.5 7.5 0 1 0 -15.0 0M271.2 1025.0m-7.5 0a7.5 7.5 0 1 0 15.0 0a7.5 7.5 0 1 0 -15.0 0M266.2 1025.6m-7.5 0a7.5 7.5 0 1 0 15.0 0a7.5 7.5 0 1 0 -15.0 0M263.7 1020.8m-7.5 0a7.5 7.5 0 1 0 15.0 0a7.5 7.5 0 1 0 -15.0 0M259.0 1018.3m-7.5 0a7.5 7.5 0 1 0 15.0 0a7.5 7.5 0 1 0 -15.0 0" fill="#FF0000"/>
<path d="M134.0 994.2m-7.5 0a7.5 7.5 0 1 0 15.0 0a7.5 7.5 0 1 0 -15.0 0M162.5 983.0m-7.5 0a7.5 7.5 0 1 0 15.0 0a7.5 7.5 0 1 0 -15.0 0M180.0 971.8m-7.5 0a7.5 7.5 0 1 0 15.0 0a7.5 7.5 0 1 0 -15.0 0M237.8 950.2m-7.5 0a7.5 7.5 0 1 0 15.0 0a7.5 7.5 0 1 0 -15.0 0M223.0 1016.2m-7.5 0a7.5 7.5 0 1 0 15.0 0a7.5 7.5 0 1 0 -15.0 0M392.7 905.8m-7.5 0a7.5 7.5 0 1 0 15.0 0a7.5 7.5 0 1 0 -15.0 0M392.5 927.2m-7.5 0a7.5 7.5 0 1 0 15.0 0a7.5 7.5 0 1 0 -15.0 0M415.2 877.3m-7.5 0a7.5 7.5 0 1 0 15.0 0a7.5 7.5 0 1 0 -15.0 0M432.5 868.8m-7.5 0a7.5 7.5 0 1 0 15.0 0a7.5 7.5 0 1 0 -15.0 0M434.4 877.2m-7.5 0a7.5 7.5 0 1 0 15.0 0a7.5 7.5 0 1 0 -15.0 0M431.6 891.2m-7.5 0a7.5 7.5 0 1 0 15.0 0a7.5 7.5 0 1 0 -15.0 0M427.8 908.1m-7.5 0a7.5 7.5 0 1 0 15.0 0a7.5 7.5 0 1 0 -15.0 0M442.8 896.9m-7.5 0a7.5 7.5 0 1 0 15.0 0a7.5 7.5 0 1 0 -15.0 0M451.2 874.4m-7.5 0a7.5 7.5 0 1 0 15.0 0a7.5 7.5 0 1 0 -15.0 0M458.8 884.7m-7.5 0a7.5 7.5 0 1 0 15.0 0a7.5 7.5 0 1 0 -15.0 0M471.9 877.2m-7.5 0a7.5 7.5 0 1 0 15.0 0a7.5 7.5 0 1 0 -15.0 0M460.6 865.0m-7.5 0a7.5 7.5 0 1 0 15.0 0a7.5 7.5 0 1 0 -15.0 0M452.2 861.2m-7.5 0a7.5 7.5 0 1 0 15.0 0a7.5 7.5 0 1 0 -15.0 0M455.0 850.0m-7.5 0a7.5 7.5 0 1 0 15.0 0a7.5 7.5 0 1 0 -15.0 0M450.3 844.4m-7.5 0a7.5 7.5 0 1 0 15.0 0a7.5 7.5 0 1 0 -15.0 0M473.8 851.9m-7.5 0a7.5 7.5 0 1 0 15.0 0a7.5 7.5 0 1 0 -15.0 0M481.2 842.5m-7.5 0a7.5 7.5 0 1 0 15.0 0a7.5 7.5 0 1 0 -15.0 0M492.5 846.6m-7.5 0a7.5 7.5 0 1 0 15.0 0a7.5 7.5 0 1 0 -15.0 0M487.8 832.2m-7.5 0a7.5 7.5 0 1 0 15.0 0a7.5 7.5 0 1 0 -15.0 0M469.1 835.9m-7.5 0a7.5 7.5 0 1 0 15.0 0a7.5 7.5 0 1 0 -15.0 0M477.1 824.7m-7.5 0a7.5 7.5 0 1 0 15.0 0a7.5 7.5 0 1 0 -15.0 0M487.8 809.1m-7.5 0a7.5 7.5 0 1 0 15.0 0a7.5 7.5 0 1 0 -15.0 0M492.5 813.4m-7.5 0a7.5 7.5 0 1 0 15.0 0a7.5 7.5 0 1 0 -15.0 0M495.3 811.6m-7.5 0a7.5 7.5 0 1 0 15.0 0a7.5 7.5 0 1 0 -15.0 0M507.5 809.1m-7.5 0a7.5 7.5 0 1 0 15.0 0a7.5 7.5 0 1 0 -15.0 0M501.9 800.3m-7.5 0a7.5 7.5 0 1 0 15.0 0a7.5 7.5 0 1 0 -15.0 0M506.0 795.6m-7.5 0a7.5 7.5 0 1 0 15.0 0a7.5 7.5 0 1 0 -15.0 0M516.5 789.4m-7.5 0a7.5 7.5 0 1 0 15.0 0a7.5 7.5 0 1 0 -15.0 0M527.8 768.6m-7.5 0a7.5 7.5 0 1 0 15.0 0a7.5 7.5 0 1 0 -15.0 0M548.4 724.8m-7.5 0a7.5 7.5 0 1 0 15.0 0a7.5 7.5 0 1 0 -15.0 0M566.6 704.7m-7.5 0a7.5 7.5 0 1 0 15.0 0a7.5 7.5 0 1 0 -15.0 0M578.8 686.5m-7.5 0a7.5 7.5 0 1 0 15.0 0a7.5 7.5 0 1 0 -15.0 0M584.4 676.3m-7.5 0a7.5 7.5 0 1 0 15.0 0a7.5 7.5 0 1 0 -15.0 0M587.3 672.6m-7.5 0a7.5 7.5 0 1 0 15.0 0a7.5 7.5 0 1 0 -15.0 0M590.2 663.1m-7.5 0a7.5 7.5 0 1 0 15.0 0a7.5 7.5 0 1 0 -15.0 0M603.0 666.0m-7.5 0a7.5 7.5 0 1 0 15.0 0a7.5 7.5 0 1 0 -15.0 0M603.3 660.9m-7.5 0a7.5 7.5 0 1 0 15.0 0a7.5 7.5 0 1 0 -15.0 0M596.8 648.8m-7.5 0a7.5 7.5 0 1 0 15.0 0a7.5 7.5 0 1 0 -15.0 0M599.7 638.6m-7.5 0a7.5 7.5 0 1 0 15.0 0a7.5 7.5 0 1 0 -15.0 0M381.9 940.0m-7.5 0a7.5 7.5 0 1 0 15.0 0a7.5 7.5 0 1 0 -15.0 0M391.2 947.5m-7.5 0a7.5 7.5 0 1 0 15.0 0a7.5 7.5 0 1 0 -15.0 0M408.1 945.6m-7.5 0a7.5 7.5 0 1 0 15.0 0a7.5 7.5 0 1 0 -15.0 0M505.9 795.0m-7.5 0a7.5 7.5 0 1 0 15.0 0a7.5 7.5 0 1 0 -15.0 0M504.1 798.8m-7.5 0a7.5 7.5 0 1 0 15.0 0a7.5 7.5 0 1 0 -15.0 0M487.7 808.1m-7.5 0a7.5 7.5 0 1 0 15.0 0a7.5 7.5 0 1 0 -15.0 0M493.8 813.8m-7.5 0a7.5 7.5 0 1 0 15.0 0a7.5 7.5 0 1 0 -15.0 0M507.8 808.1m-7.5 0a7.5 7.5 0 1 0 15.0 0a7.5 7.5 0 1 0 -15.0 0M499.4 809.0m-7.5 0a7.5 7.5 0 1 0 15.0 0a7.5 7.5 0 1 0 -15.0 0M477.3 824.5m-7.5 0a7.5 7.5 0 1 0 15.0 0a7.5 7.5 0 1 0 -15.0 0M488.1 833.4m-7.5 0a7.5 7.5 0 1 0 15.0 0a7.5 7.5 0 1 0 -15.0 0M482.5 832.5m-7.5 0a7.5 7.5 0 1 0 15.0 0a7.5 7.5 0 1 0 -15.0 0M468.9 836.2m-7.5 0a7.5 7.5 0 1 0 15.0 0a7.5 7.5 0 1 0 -15.0 0M477.8 840.0m-7.5 0a7.5 7.5 0 1 0 15.0 0a7.5 7.5 0 1 0 -15.0 0M491.4 845.6m-7.5 0a7.5 7.5 0 1 0 15.0 0a7.5 7.5 0 1 0 -15.0 0M479.7 848.4m-7.5 0a7.5 7.5 0 1 0 15.0 0a7.5 7.5 0 1 0 -15.0 0M473.1 851.2m-7.5 0a7.5 7.5 0 1 0 15.0 0a7.5 7.5 0 1 0 -15.0 0M450.6 844.7m-7.5 0a7.5 7.5 0 1 0 15.0 0a7.5 7.5 0 1 0 -15.0 0M457.2 850.3m-7.5 0a7.5 7.5 0 1 0 15.0 0a7.5 7.5 0 1 0 -15.0 0M451.1 849.4m-7.5 0a7.5 7.5 0 1 0 15.0 0a7.5 7.5 0 1 0 -15.0 0M458.1 858.8m-7.5 0a7.5 7.5 0 1 0 15.0 0a7.5 7.5 0 1 0 -15.0 0M451.1 860.6m-7.5 0a7.5 7.5 0 1 0 15.0 0a7.5 7.5 0 1 0 -15.0 0M465.6 863.4m-7.5 0a7.5 7.5 0 1 0 15.0 0a7.5 7.5 0 1 0 -15.0 0M432.8 868.6m-7.5 0a7.5 7.5 0 1 0 15.0 0a7.5 7.5 0 1 0 -15.0 0M436.1 868.1m-7.5 0a7.5 7.5 0 1 0 15.0 0a7.5 7.5 0 1 0 -15.0 0M433.8 877.5m-7.5 0a7.5 7.5 0 1 0 15.0 0a7.5 7.5 0 1 0 -15.0 0M452.5 873.8m-7.5 0a7.5 7.5 0 1 0 15.0 0a7.5 7.5 0 1 0 -15.0 0M460.0 870.0m-7.5 0a7.5 7.5 0 1 0 15.0 0a7.5 7.5 0 1 0 -15.0 0M456.2 881.2m-7.5 0a7.5 7.5 0 1 0 15.0 0a7.5 7.5 0 1 0 -15.0 0M463.8 883.1m-7.5 0a7.5 7.5 0 1 0 15.0 0a7.5 7.5 0 1 0 -15.0 0M430.9 887.8m-7.5 0a7.5 7.5 0 1 0 15.0 0a7.5 7.5 0 1 0 -15.0 0M432.3 868.9m-7.5 0a7.5 7.5 0 1 0 15.0 0a7.5 7.5 0 1 0 -15.0 0M434.7 868.0m-7.5 0a7.5 7.5 0 1 0 15.0 0a7.5 7.5 0 1 0 -15.0 0M450.6 862.8m-7.5 0a7.5 7.5 0 1 0 15.0 0a7.5 7.5 0 1 0 -15.0 0M460.0 864.7m-7.5 0a7.5 7.5 0 1 0 15.0 0a7.5 7.5 0 1 0 -15.0 0M466.6 865.6m-7.5 0a7.5 7.5 0 1 0 15.0 0a7.5 7.5 0 1 0 -15.0 0M452.5 874.1m-7.5 0a7.5 7.5 0 1 0 15.0 0a7.5 7.5 0 1 0 -15.0 0M458.1 878.8m-7.5 0a7.5 7.5 0 1 0 15.0 0a7.5 7.5 0 1 0 -15.0 0M459.1 885.3m-7.5 0a7.5 7.5 0 1 0 15.0 0a7.5 7.5 0 1 0 -15.0 0M448.8 881.6m-7.5 0a7.5 7.5 0 1 0 15.0 0a7.5 7.5 0 1 0 -15.0 0M430.9 891.9m-7.5 0a7.5 7.5 0 1 0 15.0 0a7.5 7.5 0 1 0 -15.0 0M439.4 891.9m-7.5 0a7.5 7.5 0 1 0 15.0 0a7.5 7.5 0 1 0 -15.0 0M443.1 896.6m-7.5 0a7.5 7.5 0 1 0 15.0 0a7.5 7.5 0 1 0 -15.0 0M428.6 908.8m-7.5 0a7.5 7.5 0 1 0 15.0 0a7.5 7.5 0 1 0 -15.0 0M435.6 906.9m-7.5 0a7.5 7.5 0 1 0 15.0 0a7.5 7.5 0 1 0 -15.0 0M440.3 917.2m-7.5 0a7.5 7.5 0 1 0 15.0 0a7.5 7.5 0 1 0 -15.0 0M433.8 912.5m-7.5 0a7.5 7.5 0 1 0 15.0 0a7.5 7.5 0 1 0 -15.0 0M410.3 920.0m-7.5 0a7.5 7.5 0 1 0 15.0 0a7.5 7.5 0 1 0 -15.0 0M422.5 924.7m-7.5 0a7.5 7.5 0 1 0 15.0 0a7.5 7.5 0 1 0 -15.0 0M428.1 923.8m-7.5 0a7.5 7.5 0 1 0 15.0 0a7.5 7.5 0 1 0 -15.0 0M411.2 929.4m-7.5 0a7.5 7.5 0 1 0 15.0 0a7.5 7.5 0 1 0 -15.0 0M413.1 942.5m-7.5 0a7.5 7.5 0 1 0 15.0 0a7.5 7.5 0 1 0 -15.0 0M407.5 946.2m-7.5 0a7.5 7.5 0 1 0 15.0 0a7.5 7.5 0 1 0 -15.0 0M398.1 942.5m-7.5 0a7.5 7.5 0 1 0 15.0 0a7.5 7.5 0 1 0 -15.0 0M388.8 949.0m-7.5 0a7.5 7.5 0 1 0 15.0 0a7.5 7.5 0 1 0 -15.0 0M379.4 953.8m-7.5 0a7.5 7.5 0 1 0 15.0 0a7.5 7.5 0 1 0 -15.0 0M393.4 953.8m-7.5 0a7.5 7.5 0 1 0 15.0 0a7.5 7.5 0 1 0 -15.0 0M384.1 961.2m-7.5 0a7.5 7.5 0 1 0 15.0 0a7.5 7.5 0 1 0 -15.0 0M374.7 963.1m-7.5 0a7.5 7.5 0 1 0 15.0 0a7.5 7.5 0 1 0 -15.0 0" fill="#FF0000"/>
<rect x="111.00" y="619.50" width="515.30" height="431.90" fill="none" stroke="#333333" stroke-width="2.84"/>
</g>
<g clip-path="url(#p4)">
<rect x="641.00" y="619.50" width="515.60" height="431.90" fill="#FFFFFF"/>
<path d="M641.00 707.48H1156.60M641.00 811.86H1156.60M641.00 916.22H1156.60M641.00 1020.60H1156.60M712.63 619.50V1051.40M800.89 619.50V1051.40M889.15 619.50V1051.40M977.41 619.50V1051.40M1065.67 619.50V1051.40M1153.93 619.50V1051.40" stroke="#EBEBEB" stroke-width="1.42" fill="none"/>
<path d="M641.00 655.30H1156.60M641.00 759.67H1156.60M641.00 864.04H1156.60M641.00 968.41H1156.60M668.50 619.50V1051.40M756.76 619.50V1051.40M845.02 619.50V1051.40M933.28 619.50V1051.40M1021.54 619.50V1051.40M1109.80 619.50V1051.40" stroke="#EBEBEB" stroke-width="2.84" fill="none"/>
<path d="M888.3 679.0L886.5 690.0L891.5 701.0L894.5 713.0L899.5 722.0L907.5 745.0L912.5 760.0L919.5 770.0L920.5 788.0L922.5 798.0L924.5 817.0L931.5 824.0L935.5 837.0L939.5 847.0L934.5 873.0L932.0 885.0L931.0 896.0L932.5 913.0L926.0 923.0L917.5 930.0L916.5 950.0L918.5 963.0L912.5 970.0L905.0 967.5L892.5 962.0L894.5 947.0L895.5 935.0L884.5 907.0L875.5 895.0L867.5 883.0L854.5 867.0L855.5 847.0L854.5 820.0L855.5 787.0L857.5 771.0L857.5 749.0L865.0 738.0L865.8 720.0L869.2 693.0Z" fill="#BEBEBE" stroke="#BEBEBE" stroke-width="6.75" stroke-linejoin="round"/>
<path d="M888.3 679.0m-7.5 0a7.5 7.5 0 1 0 15.0 0a7.5 7.5 0 1 0 -15.0 0M886.5 685.3m-7.5 0a7.5 7.5 0 1 0 15.0 0a7.5 7.5 0 1 0 -15.0 0M886.5 690.0m-7.5 0a7.5 7.5 0 1 0 15.0 0a7.5 7.5 0 1 0 -15.0 0M889.6 694.9m-7.5 0a7.5 7.5 0 1 0 15.0 0a7.5 7.5 0 1 0 -15.0 0M891.5 701.0m-7.5 0a7.5 7.5 0 1 0 15.0 0a7.5 7.5 0 1 0 -15.0 0M893.0 706.9m-7.5 0a7.5 7.5 0 1 0 15.0 0a7.5 7.5 0 1 0 -15.0 0M894.5 713.0m-7.5 0a7.5 7.5 0 1 0 15.0 0a7.5 7.5 0 1 0 -15.0 0M897.4 718.2m-7.5 0a7.5 7.5 0 1 0 15.0 0a7.5 7.5 0 1 0 -15.0 0M899.5 722.0m-7.5 0a7.5 7.5 0 1 0 15.0 0a7.5 7.5 0 1 0 -15.0 0M900.5 726.6m-7.5 0a7.5 7.5 0 1 0 15.0 0a7.5 7.5 0 1 0 -15.0 0M904.3 733.3m-7.5 0a7.5 7.5 0 1 0 15.0 0a7.5 7.5 0 1 0 -15.0 0M906.1 738.1m-7.5 0a7.5 7.5 0 1 0 15.0 0a7.5 7.5 0 1 0 -15.0 0M907.5 745.0m-7.5 0a7.5 7.5 0 1 0 15.0 0a7.5 7.5 0 1 0 -15.0 0M909.0 750.5m-7.5 0a7.5 7.5 0 1 0 15.0 0a7.5 7.5 0 1 0 -15.0 0M910.2 756.1m-7.5 0a7.5 7.5 0 1 0 15.0 0a7.5 7.5 0 1 0 -15.0 0M912.5 760.0m-7.5 0a7.5 7.5 0 1 0 15.0 0a7.5 7.5 0 1 0 -15.0 0M917.0 763.9m-7.5 0a7.5 7.5 0 1 0 15.0 0a7.5 7.5 0 1 0 -15.0 0M919.5 770.0m-7.5 0a7.5 7.5 0 1 0 15.0 0a7.5 7.5 0 1 0 -15.0 0M918.7 776.1m-7.5 0a7.5 7.5 0 1 0 15.0 0a7.5 7.5 0 1 0 -15.0 0M921.2 781.7m-7.5 0a7.5 7.5 0 1 0 15.0 0a7.5 7.5 0 1 0 -15.0 0M920.5 788.0m-7.5 0a7.5 7.5 0 1 0 15.0 0a7.5 7.5 0 1 0 -15.0 0M920.8 792.8m-7.5 0a7.5 7.5 0 1 0 15.0 0a7.5 7.5 0 1 0 -15.0 0M922.5 798.0m-7.5 0a7.5 7.5 0 1 0 15.0 0a7.5 7.5 0 1 0 -15.0 0M922.0 803.7m-7.5 0a7.5 7.5 0 1 0 15.0 0a7.5 7.5 0 1 0 -15.0 0M923.7 810.7m-7.5 0a7.5 7.5 0 1 0 15.0 0a7.5 7.5 0 1 0 -15.0 0M924.5 817.0m-7.5 0a7.5 7.5 0 1 0 15.0 0a7.5 7.5 0 1 0 -15.0 0M927.4 819.9m-7.5 0a7.5 7.5 0 1 0 15.0 0a7.5 7.5 0 1 0 -15.0 0M931.5 824.0m-7.5 0a7.5 7.5 0 1 0 15.0 0a7.5 7.5 0 1 0 -15.0 0M932.8 830.4m-7.5 0a7.5 7.5 0 1 0 15.0 0a7.5 7.5 0 1 0 -15.0 0M935.5 837.0m-7.5 0a7.5 7.5 0 1 0 15.0 0a7.5 7.5 0 1 0 -15.0 0M937.0 840.9m-7.5 0a7.5 7.5 0 1 0 15.0 0a7.5 7.5 0 1 0 -15.0 0M939.5 847.0m-7.5 0a7.5 7.5 0 1 0 15.0 0a7.5 7.5 0 1 0 -15.0 0M939.1 853.6m-7.5 0a7.5 7.5 0 1 0 15.0 0a7.5 7.5 0 1 0 -15.0 0M937.3 859.2m-7.5 0a7.5 7.5 0 1 0 15.0 0a7.5 7.5 0 1 0 -15.0 0M936.9 867.4m-7.5 0a7.5 7.5 0 1 0 15.0 0a7.5 7.5 0 1 0 -15.0 0M934.5 873.0m-7.5 0a7.5 7.5 0 1 0 15.0 0a7.5 7.5 0 1 0 -15.0 0M932.3 878.6m-7.5 0a7.5 7.5 0 1 0 15.0 0a7.5 7.5 0 1 0 -15.0 0M932.0 885.0m-7.5 0a7.5 7.5 0 1 0 15.0 0a7.5 7.5 0 1 0 -15.0 0M932.0 891.0m-7.5 0a7.5 7.5 0 1 0 15.0 0a7.5 7.5 0 1 0 -15.0 0M931.0 896.0m-7.5 0a7.5 7.5 0 1 0 15.0 0a7.5 7.5 0 1 0 -15.0 0M932.5 901.5m-7.5 0a7.5 7.5 0 1 0 15.0 0a7.5 7.5 0 1 0 -15.0 0M932.8 907.7m-7.5 0a7.5 7.5 0 1 0 15.0 0a7.5 7.5 0 1 0 -15.0 0M932.5 913.0m-7.5 0a7.5 7.5 0 1 0 15.0 0a7.5 7.5 0 1 0 -15.0 0M928.8 918.2m-7.5 0a7.5 7.5 0 1 0 15.0 0a7.5 7.5 0 1 0 -15.0 0M926.0 923.0m-7.5 0a7.5 7.5 0 1 0 15.0 0a7.5 7.5 0 1 0 -15.0 0M922.7 927.3m-7.5 0a7.5 7.5 0 1 0 15.0 0a7.5 7.5 0 1 0 -15.0 0M917.5 930.0m-7.5 0a7.5 7.5 0 1 0 15.0 0a7.5 7.5 0 1 0 -15.0 0M917.2 936.9m-7.5 0a7.5 7.5 0 1 0 15.0 0a7.5 7.5 0 1 0 -15.0 0M915.7 942.7m-7.5 0a7.5 7.5 0 1 0 15.0 0a7.5 7.5 0 1 0 -15.0 0M916.5 950.0m-7.5 0a7.5 7.5 0 1 0 15.0 0a7.5 7.5 0 1 0 -15.0 0M918.2 956.3m-7.5 0a7.5 7.5 0 1 0 15.0 0a7.5 7.5 0 1 0 -15.0 0M918.5 963.0m-7.5 0a7.5 7.5 0 1 0 15.0 0a7.5 7.5 0 1 0 -15.0 0M914.7 966.6m-7.5 0a7.5 7.5 0 1 0 15.0 0a7.5 7.5 0 1 0 -15.0 0M912.5 970.0m-7.5 0a7.5 7.5 0 1 0 15.0 0a7.5 7.5 0 1 0 -15.0 0M909.2 969.2m-7.5 0a7.5 7.5 0 1 0 15.0 0a7.5 7.5 0 1 0 -15.0 0M905.0 967.5m-7.5 0a7.5 7.5 0 1 0 15.0 0a7.5 7.5 0 1 0 -15.0 0M898.4 964.6m-7.5 0a7.5 7.5 0 1 0 15.0 0a7.5 7.5 0 1 0 -15.0 0M892.5 962.0m-7.5 0a7.5 7.5 0 1 0 15.0 0a7.5 7.5 0 1 0 -15.0 0M893.2 957.7m-7.5 0a7.5 7.5 0 1 0 15.0 0a7.5 7.5 0 1 0 -15.0 0M893.9 951.7m-7.5 0a7.5 7.5 0 1 0 15.0 0a7.5 7.5 0 1 0 -15.0 0M894.5 947.0m-7.5 0a7.5 7.5 0 1 0 15.0 0a7.5 7.5 0 1 0 -15.0 0M895.0 939.9m-7.5 0a7.5 7.5 0 1 0 15.0 0a7.5 7.5 0 1 0 -15.0 0M895.5 935.0m-7.5 0a7.5 7.5 0 1 0 15.0 0a7.5 7.5 0 1 0 -15.0 0M892.2 929.9m-7.5 0a7.5 7.5 0 1 0 15.0 0a7.5 7.5 0 1 0 -15.0 0M892.3 924.0m-7.5 0a7.5 7.5 0 1 0 15.0 0a7.5 7.5 0 1 0 -15.0 0M888.6 917.4m-7.5 0a7.5 7.5 0 1 0 15.0 0a7.5 7.5 0 1 0 -15.0 0M886.7 913.8m-7.5 0a7.5 7.5 0 1 0 15.0 0a7.5 7.5 0 1 0 -15.0 0M884.5 907.0m-7.5 0a7.5 7.5 0 1 0 15.0 0a7.5 7.5 0 1 0 -15.0 0M882.1 903.1m-7.5 0a7.5 7.5 0 1 0 15.0 0a7.5 7.5 0 1 0 -15.0 0M879.4 898.4m-7.5 0a7.5 7.5 0 1 0 15.0 0a7.5 7.5 0 1 0 -15.0 0M875.5 895.0m-7.5 0a7.5 7.5 0 1 0 15.0 0a7.5 7.5 0 1 0 -15.0 0M871.5 890.1m-7.5 0a7.5 7.5 0 1 0 15.0 0a7.5 7.5 0 1 0 -15.0 0M867.5 883.0m-7.5 0a7.5 7.5 0 1 0 15.0 0a7.5 7.5 0 1 0 -15.0 0M863.4 877.6m-7.5 0a7.5 7.5 0 1 0 15.0 0a7.5 7.5 0 1 0 -15.0 0M858.3 872.4m-7.5 0a7.5 7.5 0 1 0 15.0 0a7.5 7.5 0 1 0 -15.0 0M854.5 867.0m-7.5 0a7.5 7.5 0 1 0 15.0 0a7.5 7.5 0 1 0 -15.0 0M855.9 859.1m-7.5 0a7.5 7.5 0 1 0 15.0 0a7.5 7.5 0 1 0 -15.0 0M855.8 854.4m-7.5 0a7.5 7.5 0 1 0 15.0 0a7.5 7.5 0 1 0 -15.0 0M855.5 847.0m-7.5 0a7.5 7.5 0 1 0 15.0 0a7.5 7.5 0 1 0 -15.0 0M856.2 840.8m-7.5 0a7.5 7.5 0 1 0 15.0 0a7.5 7.5 0 1 0 -15.0 0M855.7 833.5m-7.5 0a7.5 7.5 0 1 0 15.0 0a7.5 7.5 0 1 0 -15.0 0M854.9 826.6m-7.5 0a7.5 7.5 0 1 0 15.0 0a7.5 7.5 0 1 0 -15.0 0M854.5 820.0m-7.5 0a7.5 7.5 0 1 0 15.0 0a7.5 7.5 0 1 0 -15.0 0M853.6 814.3m-7.5 0a7.5 7.5 0 1 0 15.0 0a7.5 7.5 0 1 0 -15.0 0M855.1 806.1m-7.5 0a7.5 7.5 0 1 0 15.0 0a7.5 7.5 0 1 0 -15.0 0M855.1 800.2m-7.5 0a7.5 7.5 0 1 0 15.0 0a7.5 7.5 0 1 0 -15.0 0M855.0 793.2m-7.5 0a7.5 7.5 0 1 0 15.0 0a7.5 7.5 0 1 0 -15.0 0M855.5 787.0m-7.5 0a7.5 7.5 0 1 0 15.0 0a7.5 7.5 0 1 0 -15.0 0M856.3 782.0m-7.5 0a7.5 7.5 0 1 0 15.0 0a7.5 7.5 0 1 0 -15.0 0M857.1 776.2m-7.5 0a7.5 7.5 0 1 0 15.0 0a7.5 7.5 0 1 0 -15.0 0M857.5 771.0m-7.5 0a7.5 7.5 0 1 0 15.0 0a7.5 7.5 0 1 0 -15.0 0M856.4 763.0m-7.5 0a7.5 7.5 0 1 0 15.0 0a7.5 7.5 0 1 0 -15.0 0M856.7 756.5m-7.5 0a7.5 7.5 0 1 0 15.0 0a7.5 7.5 0 1 0 -15.0 0M857.5 749.0m-7.5 0a7.5 7.5 0 1 0 15.0 0a7.5 7.5 0 1 0 -15.0 0M862.1 744.2m-7.5 0a7.5 7.5 0 1 0 15.0 0a7.5 7.5 0 1 0 -15.0 0M865.0 738.0m-7.5 0a7.5 7.5 0 1 0 15.0 0a7.5 7.5 0 1 0 -15.0 0M866.0 732.8m-7.5 0a7.5 7.5 0 1 0 15.0 0a7.5 7.5 0 1 0 -15.0 0M864.9 726.8m-7.5 0a7.5 7.5 0 1 0 15.0 0a7.5 7.5 0 1 0 -15.0 0M865.8 720.0m-7.5 0a7.5 7.5 0 1 0 15.0 0a7.5 7.5 0 1 0 -15.0 0M867.1 712.2m-7.5 0a7.5 7.5 0 1 0 15.0 0a7.5 7.5 0 1 0 -15.0 0M866.3 705.3m-7.5 0a7.5 7.5 0 1 0 15.0 0a7.5 7.5 0 1 0 -15.0 0M869.0 699.1m-7.5 0a7.5 7.5 0 1 0 15.0 0a7.5 7.5 0 1 0 -15.0 0M869.2 693.0m-7.5 0a7.5 7.5 0 1 0 15.0 0a7.5 7.5 0 1 0 -15.0 0M873.0 689.8m-7.5 0a7.5 7.5 0 1 0 15.0 0a7.5 7.5 0 1 0 -15.0 0M878.4 685.0m-7.5 0a7.5 7.5 0 1 0 15.0 0a7.5 7.5 0 1 0 -15.0 0M882.7 682.6m-7.5 0a7.5 7.5 0 1 0 15.0 0a7.5 7.5 0 1 0 -15.0 0" fill="#BEBEBE"/>
<path d="M913.0 724.7m-7.5 0a7.5 7.5 0 1 0 15.0 0a7.5 7.5 0 1 0 -15.0 0M853.0 889.5m-7.5 0a7.5 7.5 0 1 0 15.0 0a7.5 7.5 0 1 0 -15.0 0M875.0 915.8m-7.5 0a7.5 7.5 0 1 0 15.0 0a7.5 7.5 0 1 0 -15.0 0M871.3 929.7m-7.5 0a7.5 7.5 0 1 0 15.0 0a7.5 7.5 0 1 0 -15.0 0M854.2 749.0m-7.5 0a7.5 7.5 0 1 0 15.0 0a7.5 7.5 0 1 0 -15.0 0" fill="#BEBEBE"/>
<path d="M927.5 957.5L932.5 945.6L940.6 934.4L948.1 923.8L948.1 909.4L940.0 903.8L949.2 909.2L955.0 921.0L968.8 921.9L966.2 932.5L976.7 938.0L986.9 938.8L984.4 948.8L993.8 958.8L1010.0 951.2L1016.2 958.8L1008.8 967.5L1007.5 987.5L1008.8 998.8L1018.1 1012.5L1010.0 1027.5L998.8 1028.8L982.5 1031.2L966.9 1031.2L955.0 1027.5L943.8 1020.0L926.2 1021.9L916.2 1012.5L913.0 1000.0L912.5 990.0L917.5 981.2L930.6 985.6L939.4 980.6L933.1 964.4Z" fill="#FF0000" stroke="#FF0000" stroke-width="6.75" stroke-linejoin="round"/>
<path d="M927.5 957.5m-7.5 0a7.5 7.5 0 1 0 15.0 0a7.5 7.5 0 1 0 -15.0 0M929.1 952.4m-7.5 0a7.5 7.5 0 1 0 15.0 0a7.5 7.5 0 1 0 -15.0 0M932.5 945.6m-7.5 0a7.5 7.5 0 1 0 15.0 0a7.5 7.5 0 1 0 -15.0 0M937.2 939.4m-7.5 0a7.5 7.5 0 1 0 15.0 0a7.5 7.5 0 1 0 -15.0 0M940.6 934.4m-7.5 0a7.5 7.5 0 1 0 15.0 0a7.5 7.5 0 1 0 -15.0 0M944.3 929.0m-7.5 0a7.5 7.5 0 1 0 15.0 0a7.5 7.5 0 1 0 -15.0 0M948.1 923.8m-7.5 0a7.5 7.5 0 1 0 15.0 0a7.5 7.5 0 1 0 -15.0 0M948.5 917.3m-7.5 0a7.5 7.5 0 1 0 15.0 0a7.5 7.5 0 1 0 -15.0 0M948.1 909.4m-7.5 0a7.5 7.5 0 1 0 15.0 0a7.5 7.5 0 1 0 -15.0 0M943.1 905.4m-7.5 0a7.5 7.5 0 1 0 15.0 0a7.5 7.5 0 1 0 -15.0 0M940.0 903.8m-7.5 0a7.5 7.5 0 1 0 15.0 0a7.5 7.5 0 1 0 -15.0 0M945.4 906.3m-7.5 0a7.5 7.5 0 1 0 15.0 0a7.5 7.5 0 1 0 -15.0 0M949.2 909.2m-7.5 0a7.5 7.5 0 1 0 15.0 0a7.5 7.5 0 1 0 -15.0 0M952.7 913.9m-7.5 0a7.5 7.5 0 1 0 15.0 0a7.5 7.5 0 1 0 -15.0 0M955.0 921.0m-7.5 0a7.5 7.5 0 1 0 15.0 0a7.5 7.5 0 1 0 -15.0 0M961.7 922.0m-7.5 0a7.5 7.5 0 1 0 15.0 0a7.5 7.5 0 1 0 -15.0 0M968.8 921.9m-7.5 0a7.5 7.5 0 1 0 15.0 0a7.5 7.5 0 1 0 -15.0 0M966.8 928.3m-7.5 0a7.5 7.5 0 1 0 15.0 0a7.5 7.5 0 1 0 -15.0 0M966.2 932.5m-7.5 0a7.5 7.5 0 1 0 15.0 0a7.5 7.5 0 1 0 -15.0 0M972.4 934.1m-7.5 0a7.5 7.5 0 1 0 15.0 0a7.5 7.5 0 1 0 -15.0 0M976.7 938.0m-7.5 0a7.5 7.5 0 1 0 15.0 0a7.5 7.5 0 1 0 -15.0 0M980.7 938.5m-7.5 0a7.5 7.5 0 1 0 15.0 0a7.5 7.5 0 1 0 -15.0 0M986.9 938.8m-7.5 0a7.5 7.5 0 1 0 15.0 0a7.5 7.5 0 1 0 -15.0 0M986.7 943.5m-7.5 0a7.5 7.5 0 1 0 15.0 0a7.5 7.5 0 1 0 -15.0 0M984.4 948.8m-7.5 0a7.5 7.5 0 1 0 15.0 0a7.5 7.5 0 1 0 -15.0 0M988.4 953.6m-7.5 0a7.5 7.5 0 1 0 15.0 0a7.5 7.5 0 1 0 -15.0 0M993.8 958.8m-7.5 0a7.5 7.5 0 1 0 15.0 0a7.5 7.5 0 1 0 -15.0 0M998.0 955.6m-7.5 0a7.5 7.5 0 1 0 15.0 0a7.5 7.5 0 1 0 -15.0 0M1004.4 953.7m-7.5 0a7.5 7.5 0 1 0 15.0 0a7.5 7.5 0 1 0 -15.0 0M1010.0 951.2m-7.5 0a7.5 7.5 0 1 0 15.0 0a7.5 7.5 0 1 0 -15.0 0M1012.5 954.4m-7.5 0a7.5 7.5 0 1 0 15.0 0a7.5 7.5 0 1 0 -15.0 0M1016.2 958.8m-7.5 0a7.5 7.5 0 1 0 15.0 0a7.5 7.5 0 1 0 -15.0 0M1011.8 963.0m-7.5 0a7.5 7.5 0 1 0 15.0 0a7.5 7.5 0 1 0 -15.0 0M1008.8 967.5m-7.5 0a7.5 7.5 0 1 0 15.0 0a7.5 7.5 0 1 0 -15.0 0M1007.8 973.0m-7.5 0a7.5 7.5 0 1 0 15.0 0a7.5 7.5 0 1 0 -15.0 0M1008.7 981.0m-7.5 0a7.5 7.5 0 1 0 15.0 0a7.5 7.5 0 1 0 -15.0 0M1007.5 987.5m-7.5 0a7.5 7.5 0 1 0 15.0 0a7.5 7.5 0 1 0 -15.0 0M1008.5 992.4m-7.5 0a7.5 7.5 0 1 0 15.0 0a7.5 7.5 0 1 0 -15.0 0M1008.8 998.8m-7.5 0a7.5 7.5 0 1 0 15.0 0a7.5 7.5 0 1 0 -15.0 0M1013.0 1004.2m-7.5 0a7.5 7.5 0 1 0 15.0 0a7.5 7.5 0 1 0 -15.0 0M1014.1 1007.5m-7.5 0a7.5 7.5 0 1 0 15.0 0a7.5 7.5 0 1 0 -15.0 0M1018.1 1012.5m-7.5 0a7.5 7.5 0 1 0 15.0 0a7.5 7.5 0 1 0 -15.0 0M1015.9 1018.0m-7.5 0a7.5 7.5 0 1 0 15.0 0a7.5 7.5 0 1 0 -15.0 0M1013.7 1022.3m-7.5 0a7.5 7.5 0 1 0 15.0 0a7.5 7.5 0 1 0 -15.0 0M1010.0 1027.5m-7.5 0a7.5 7.5 0 1 0 15.0 0a7.5 7.5 0 1 0 -15.0 0M1005.2 1028.5m-7.5 0a7.5 7.5 0 1 0 15.0 0a7.5 7.5 0 1 0 -15.0 0M998.8 1028.8m-7.5 0a7.5 7.5 0 1 0 15.0 0a7.5 7.5 0 1 0 -15.0 0M992.9 1029.8m-7.5 0a7.5 7.5 0 1 0 15.0 0a7.5 7.5 0 1 0 -15.0 0M988.8 1031.2m-7.5 0a7.5 7.5 0 1 0 15.0 0a7.5 7.5 0 1 0 -15.0 0M982.5 1031.2m-7.5 0a7.5 7.5 0 1 0 15.0 0a7.5 7.5 0 1 0 -15.0 0M977.3 1031.5m-7.5 0a7.5 7.5 0 1 0 15.0 0a7.5 7.5 0 1 0 -15.0 0M971.0 1030.6m-7.5 0a7.5 7.5 0 1 0 15.0 0a7.5 7.5 0 1 0 -15.0 0M966.9 1031.2m-7.5 0a7.5 7.5 0 1 0 15.0 0a7.5 7.5 0 1 0 -15.0 0M961.7 1029.2m-7.5 0a7.5 7.5 0 1 0 15.0 0a7.5 7.5 0 1 0 -15.0 0M955.0 1027.5m-7.5 0a7.5 7.5 0 1 0 15.0 0a7.5 7.5 0 1 0 -15.0 0M948.6 1023.9m-7.5 0a7.5 7.5 0 1 0 15.0 0a7.5 7.5 0 1 0 -15.0 0M943.8 1020.0m-7.5 0a7.5 7.5 0 1 0 15.0 0a7.5 7.5 0 1 0 -15.0 0M938.4 1021.1m-7.5 0a7.5 7.5 0 1 0 15.0 0a7.5 7.5 0 1 0 -15.0 0M931.8 1021.1m-7.5 0a7.5 7.5 0 1 0 15.0 0a7.5 7.5 0 1 0 -15.0 0M926.2 1021.9m-7.5 0a7.5 7.5 0 1 0 15.0 0a7.5 7.5 0 1 0 -15.0 0M921.3 1017.9m-7.5 0a7.5 7.5 0 1 0 15.0 0a7.5 7.5 0 1 0 -15.0 0M916.2 1012.5m-7.5 0a7.5 7.5 0 1 0 15.0 0a7.5 7.5 0 1 0 -15.0 0M914.7 1006.0m-7.5 0a7.5 7.5 0 1 0 15.0 0a7.5 7.5 0 1 0 -15.0 0M913.0 1000.0m-7.5 0a7.5 7.5 0 1 0 15.0 0a7.5 7.5 0 1 0 -15.0 0M912.7 993.9m-7.5 0a7.5 7.5 0 1 0 15.0 0a7.5 7.5 0 1 0 -15.0 0M912.5 990.0m-7.5 0a7.5 7.5 0 1 0 15.0 0a7.5 7.5 0 1 0 -15.0 0M913.9 986.1m-7.5 0a7.5 7.5 0 1 0 15.0 0a7.5 7.5 0 1 0 -15.0 0M917.5 981.2m-7.5 0a7.5 7.5 0 1 0 15.0 0a7.5 7.5 0 1 0 -15.0 0M925.2 983.6m-7.5 0a7.5 7.5 0 1 0 15.0 0a7.5 7.5 0 1 0 -15.0 0M930.6 985.6m-7.5 0a7.5 7.5 0 1 0 15.0 0a7.5 7.5 0 1 0 -15.0 0M934.7 982.3m-7.5 0a7.5 7.5 0 1 0 15.0 0a7.5 7.5 0 1 0 -15.0 0M939.4 980.6m-7.5 0a7.5 7.5 0 1 0 15.0 0a7.5 7.5 0 1 0 -15.0 0M937.3 976.4m-7.5 0a7.5 7.5 0 1 0 15.0 0a7.5 7.5 0 1 0 -15.0 0M935.8 969.9m-7.5 0a7.5 7.5 0 1 0 15.0 0a7.5 7.5 0 1 0 -15.0 0M933.1 964.4m-7.5 0a7.5 7.5 0 1 0 15.0 0a7.5 7.5 0 1 0 -15.0 0M931.2 960.3m-7.5 0a7.5 7.5 0 1 0 15.0 0a7.5 7.5 0 1 0 -15.0 0" fill="#FF0000"/>
<path d="M876.7 638.7m-7.5 0a7.5 7.5 0 1 0 15.0 0a7.5 7.5 0 1 0 -15.0 0M867.8 648.7m-7.5 0a7.5 7.5 0 1 0 15.0 0a7.5 7.5 0 1 0 -15.0 0M889.5 660.8m-7.5 0a7.5 7.5 0 1 0 15.0 0a7.5 7.5 0 1 0 -15.0 0M860.8 665.0m-7.5 0a7.5 7.5 0 1 0 15.0 0a7.5 7.5 0 1 0 -15.0 0M868.3 663.3m-7.5 0a7.5 7.5 0 1 0 15.0 0a7.5 7.5 0 1 0 -15.0 0M875.0 665.0m-7.5 0a7.5 7.5 0 1 0 15.0 0a7.5 7.5 0 1 0 -15.0 0M880.0 668.3m-7.5 0a7.5 7.5 0 1 0 15.0 0a7.5 7.5 0 1 0 -15.0 0M876.7 672.5m-7.5 0a7.5 7.5 0 1 0 15.0 0a7.5 7.5 0 1 0 -15.0 0M865.8 677.5m-7.5 0a7.5 7.5 0 1 0 15.0 0a7.5 7.5 0 1 0 -15.0 0M882.8 686.3m-7.5 0a7.5 7.5 0 1 0 15.0 0a7.5 7.5 0 1 0 -15.0 0M881.3 705.0m-7.5 0a7.5 7.5 0 1 0 15.0 0a7.5 7.5 0 1 0 -15.0 0M866.3 725.0m-7.5 0a7.5 7.5 0 1 0 15.0 0a7.5 7.5 0 1 0 -15.0 0M831.7 768.7m-7.5 0a7.5 7.5 0 1 0 15.0 0a7.5 7.5 0 1 0 -15.0 0M841.2 789.2m-7.5 0a7.5 7.5 0 1 0 15.0 0a7.5 7.5 0 1 0 -15.0 0M790.3 794.7m-7.5 0a7.5 7.5 0 1 0 15.0 0a7.5 7.5 0 1 0 -15.0 0M829.2 798.5m-7.5 0a7.5 7.5 0 1 0 15.0 0a7.5 7.5 0 1 0 -15.0 0M838.3 808.3m-7.5 0a7.5 7.5 0 1 0 15.0 0a7.5 7.5 0 1 0 -15.0 0M845.8 807.5m-7.5 0a7.5 7.5 0 1 0 15.0 0a7.5 7.5 0 1 0 -15.0 0M852.2 810.0m-7.5 0a7.5 7.5 0 1 0 15.0 0a7.5 7.5 0 1 0 -15.0 0M840.0 815.8m-7.5 0a7.5 7.5 0 1 0 15.0 0a7.5 7.5 0 1 0 -15.0 0M838.3 825.0m-7.5 0a7.5 7.5 0 1 0 15.0 0a7.5 7.5 0 1 0 -15.0 0M844.2 830.8m-7.5 0a7.5 7.5 0 1 0 15.0 0a7.5 7.5 0 1 0 -15.0 0M856.7 835.8m-7.5 0a7.5 7.5 0 1 0 15.0 0a7.5 7.5 0 1 0 -15.0 0M840.8 841.7m-7.5 0a7.5 7.5 0 1 0 15.0 0a7.5 7.5 0 1 0 -15.0 0M796.7 833.7m-7.5 0a7.5 7.5 0 1 0 15.0 0a7.5 7.5 0 1 0 -15.0 0M778.0 848.7m-7.5 0a7.5 7.5 0 1 0 15.0 0a7.5 7.5 0 1 0 -15.0 0M845.3 857.5m-7.5 0a7.5 7.5 0 1 0 15.0 0a7.5 7.5 0 1 0 -15.0 0M831.3 862.5m-7.5 0a7.5 7.5 0 1 0 15.0 0a7.5 7.5 0 1 0 -15.0 0M784.7 869.2m-7.5 0a7.5 7.5 0 1 0 15.0 0a7.5 7.5 0 1 0 -15.0 0M804.5 873.0m-7.5 0a7.5 7.5 0 1 0 15.0 0a7.5 7.5 0 1 0 -15.0 0M820.8 874.2m-7.5 0a7.5 7.5 0 1 0 15.0 0a7.5 7.5 0 1 0 -15.0 0M819.2 877.5m-7.5 0a7.5 7.5 0 1 0 15.0 0a7.5 7.5 0 1 0 -15.0 0M846.7 878.3m-7.5 0a7.5 7.5 0 1 0 15.0 0a7.5 7.5 0 1 0 -15.0 0M854.2 877.5m-7.5 0a7.5 7.5 0 1 0 15.0 0a7.5 7.5 0 1 0 -15.0 0M780.8 891.7m-7.5 0a7.5 7.5 0 1 0 15.0 0a7.5 7.5 0 1 0 -15.0 0M829.2 897.0m-7.5 0a7.5 7.5 0 1 0 15.0 0a7.5 7.5 0 1 0 -15.0 0M894.2 844.2m-7.5 0a7.5 7.5 0 1 0 15.0 0a7.5 7.5 0 1 0 -15.0 0M895.8 848.3m-7.5 0a7.5 7.5 0 1 0 15.0 0a7.5 7.5 0 1 0 -15.0 0M890.5 868.3m-7.5 0a7.5 7.5 0 1 0 15.0 0a7.5 7.5 0 1 0 -15.0 0M934.2 845.8m-7.5 0a7.5 7.5 0 1 0 15.0 0a7.5 7.5 0 1 0 -15.0 0M935.0 850.0m-7.5 0a7.5 7.5 0 1 0 15.0 0a7.5 7.5 0 1 0 -15.0 0M947.5 851.3m-7.5 0a7.5 7.5 0 1 0 15.0 0a7.5 7.5 0 1 0 -15.0 0M945.8 863.3m-7.5 0a7.5 7.5 0 1 0 15.0 0a7.5 7.5 0 1 0 -15.0 0M951.7 868.3m-7.5 0a7.5 7.5 0 1 0 15.0 0a7.5 7.5 0 1 0 -15.0 0M955.8 871.3m-7.5 0a7.5 7.5 0 1 0 15.0 0a7.5 7.5 0 1 0 -15.0 0M928.7 877.5m-7.5 0a7.5 7.5 0 1 0 15.0 0a7.5 7.5 0 1 0 -15.0 0M935.8 885.0m-7.5 0a7.5 7.5 0 1 0 15.0 0a7.5 7.5 0 1 0 -15.0 0M943.3 883.3m-7.5 0a7.5 7.5 0 1 0 15.0 0a7.5 7.5 0 1 0 -15.0 0M963.0 883.3m-7.5 0a7.5 7.5 0 1 0 15.0 0a7.5 7.5 0 1 0 -15.0 0M940.0 904.2m-7.5 0a7.5 7.5 0 1 0 15.0 0a7.5 7.5 0 1 0 -15.0 0M948.3 909.2m-7.5 0a7.5 7.5 0 1 0 15.0 0a7.5 7.5 0 1 0 -15.0 0M974.7 908.3m-7.5 0a7.5 7.5 0 1 0 15.0 0a7.5 7.5 0 1 0 -15.0 0M968.3 921.7m-7.5 0a7.5 7.5 0 1 0 15.0 0a7.5 7.5 0 1 0 -15.0 0M956.7 870.8m-7.5 0a7.5 7.5 0 1 0 15.0 0a7.5 7.5 0 1 0 -15.0 0M858.3 917.0m-7.5 0a7.5 7.5 0 1 0 15.0 0a7.5 7.5 0 1 0 -15.0 0M854.7 945.8m-7.5 0a7.5 7.5 0 1 0 15.0 0a7.5 7.5 0 1 0 -15.0 0M790.0 956.7m-7.5 0a7.5 7.5 0 1 0 15.0 0a7.5 7.5 0 1 0 -15.0 0M884.5 950.0m-7.5 0a7.5 7.5 0 1 0 15.0 0a7.5 7.5 0 1 0 -15.0 0M878.5 968.0m-7.5 0a7.5 7.5 0 1 0 15.0 0a7.5 7.5 0 1 0 -15.0 0M890.8 975.5m-7.5 0a7.5 7.5 0 1 0 15.0 0a7.5 7.5 0 1 0 -15.0 0M866.5 978.7m-7.5 0a7.5 7.5 0 1 0 15.0 0a7.5 7.5 0 1 0 -15.0 0M889.2 985.8m-7.5 0a7.5 7.5 0 1 0 15.0 0a7.5 7.5 0 1 0 -15.0 0M875.8 991.7m-7.5 0a7.5 7.5 0 1 0 15.0 0a7.5 7.5 0 1 0 -15.0 0M884.2 996.7m-7.5 0a7.5 7.5 0 1 0 15.0 0a7.5 7.5 0 1 0 -15.0 0M865.8 1000.8m-7.5 0a7.5 7.5 0 1 0 15.0 0a7.5 7.5 0 1 0 -15.0 0M868.0 1011.7m-7.5 0a7.5 7.5 0 1 0 15.0 0a7.5 7.5 0 1 0 -15.0 0M891.3 1011.7m-7.5 0a7.5 7.5 0 1 0 15.0 0a7.5 7.5 0 1 0 -15.0 0M904.2 1014.2m-7.5 0a7.5 7.5 0 1 0 15.0 0a7.5 7.5 0 1 0 -15.0 0M896.7 1021.7m-7.5 0a7.5 7.5 0 1 0 15.0 0a7.5 7.5 0 1 0 -15.0 0M881.7 1025.0m-7.5 0a7.5 7.5 0 1 0 15.0 0a7.5 7.5 0 1 0 -15.0 0M888.3 1030.0m-7.5 0a7.5 7.5 0 1 0 15.0 0a7.5 7.5 0 1 0 -15.0 0M911.7 1026.7m-7.5 0a7.5 7.5 0 1 0 15.0 0a7.5 7.5 0 1 0 -15.0 0M855.0 1026.7m-7.5 0a7.5 7.5 0 1 0 15.0 0a7.5 7.5 0 1 0 -15.0 0M841.6 1025.5m-7.5 0a7.5 7.5 0 1 0 15.0 0a7.5 7.5 0 1 0 -15.0 0M917.5 980.8m-7.5 0a7.5 7.5 0 1 0 15.0 0a7.5 7.5 0 1 0 -15.0 0M912.5 990.0m-7.5 0a7.5 7.5 0 1 0 15.0 0a7.5 7.5 0 1 0 -15.0 0M918.3 1011.7m-7.5 0a7.5 7.5 0 1 0 15.0 0a7.5 7.5 0 1 0 -15.0 0M925.8 1021.7m-7.5 0a7.5 7.5 0 1 0 15.0 0a7.5 7.5 0 1 0 -15.0 0M664.5 860.8m-7.5 0a7.5 7.5 0 1 0 15.0 0a7.5 7.5 0 1 0 -15.0 0M707.5 850.2m-7.5 0a7.5 7.5 0 1 0 15.0 0a7.5 7.5 0 1 0 -15.0 0M733.5 876.8m-7.5 0a7.5 7.5 0 1 0 15.0 0a7.5 7.5 0 1 0 -15.0 0M728.1 892.1m-7.5 0a7.5 7.5 0 1 0 15.0 0a7.5 7.5 0 1 0 -15.0 0M727.3 927.9m-7.5 0a7.5 7.5 0 1 0 15.0 0a7.5 7.5 0 1 0 -15.0 0M724.8 985.6m-7.5 0a7.5 7.5 0 1 0 15.0 0a7.5 7.5 0 1 0 -15.0 0M730.2 997.1m-7.5 0a7.5 7.5 0 1 0 15.0 0a7.5 7.5 0 1 0 -15.0 0M737.3 1011.2m-7.5 0a7.5 7.5 0 1 0 15.0 0a7.5 7.5 0 1 0 -15.0 0M740.2 1017.0m-7.5 0a7.5 7.5 0 1 0 15.0 0a7.5 7.5 0 1 0 -15.0 0M743.1 1023.7m-7.5 0a7.5 7.5 0 1 0 15.0 0a7.5 7.5 0 1 0 -15.0 0M746.6 1030.5m-7.5 0a7.5 7.5 0 1 0 15.0 0a7.5 7.5 0 1 0 -15.0 0M775.9 991.0m-7.5 0a7.5 7.5 0 1 0 15.0 0a7.5 7.5 0 1 0 -15.0 0M788.4 990.4m-7.5 0a7.5 7.5 0 1 0 15.0 0a7.5 7.5 0 1 0 -15.0 0M795.8 1031.4m-7.5 0a7.5 7.5 0 1 0 15.0 0a7.5 7.5 0 1 0 -15.0 0M834.1 1009.7m-7.5 0a7.5 7.5 0 1 0 15.0 0a7.5 7.5 0 1 0 -15.0 0M863.6 978.4m-7.5 0a7.5 7.5 0 1 0 15.0 0a7.5 7.5 0 1 0 -15.0 0M863.6 1000.6m-7.5 0a7.5 7.5 0 1 0 15.0 0a7.5 7.5 0 1 0 -15.0 0M864.6 1010.2m-7.5 0a7.5 7.5 0 1 0 15.0 0a7.5 7.5 0 1 0 -15.0 0M1089.5 950.3m-7.5 0a7.5 7.5 0 1 0 15.0 0a7.5 7.5 0 1 0 -15.0 0M1111.7 972.0m-7.5 0a7.5 7.5 0 1 0 15.0 0a7.5 7.5 0 1 0 -15.0 0M1125.3 983.3m-7.5 0a7.5 7.5 0 1 0 15.0 0a7.5 7.5 0 1 0 -15.0 0M1133.3 994.3m-7.5 0a7.5 7.5 0 1 0 15.0 0a7.5 7.5 0 1 0 -15.0 0M1017.5 906.0m-7.5 0a7.5 7.5 0 1 0 15.0 0a7.5 7.5 0 1 0 -15.0 0M994.5 912.8m-7.5 0a7.5 7.5 0 1 0 15.0 0a7.5 7.5 0 1 0 -15.0 0M1029.2 951.7m-7.5 0a7.5 7.5 0 1 0 15.0 0a7.5 7.5 0 1 0 -15.0 0M1035.0 972.5m-7.5 0a7.5 7.5 0 1 0 15.0 0a7.5 7.5 0 1 0 -15.0 0M1049.2 999.2m-7.5 0a7.5 7.5 0 1 0 15.0 0a7.5 7.5 0 1 0 -15.0 0M1040.0 1008.3m-7.5 0a7.5 7.5 0 1 0 15.0 0a7.5 7.5 0 1 0 -15.0 0M1051.7 1012.5m-7.5 0a7.5 7.5 0 1 0 15.0 0a7.5 7.5 0 1 0 -15.0 0M1063.3 1016.3m-7.5 0a7.5 7.5 0 1 0 15.0 0a7.5 7.5 0 1 0 -15.0 0M1032.5 1025.0m-7.5 0a7.5 7.5 0 1 0 15.0 0a7.5 7.5 0 1 0 -15.0 0M1048.3 999.2m-7.5 0a7.5 7.5 0 1 0 15.0 0a7.5 7.5 0 1 0 -15.0 0M1025.0 969.4m-7.5 0a7.5 7.5 0 1 0 15.0 0a7.5 7.5 0 1 0 -15.0 0M1034.4 972.5m-7.5 0a7.5 7.5 0 1 0 15.0 0a7.5 7.5 0 1 0 -15.0 0M1026.9 983.1m-7.5 0a7.5 7.5 0 1 0 15.0 0a7.5 7.5 0 1 0 -15.0 0M1028.1 1000.0m-7.5 0a7.5 7.5 0 1 0 15.0 0a7.5 7.5 0 1 0 -15.0 0M1048.8 998.8m-7.5 0a7.5 7.5 0 1 0 15.0 0a7.5 7.5 0 1 0 -15.0 0M1040.0 1007.5m-7.5 0a7.5 7.5 0 1 0 15.0 0a7.5 7.5 0 1 0 -15.0 0M1051.9 1012.5m-7.5 0a7.5 7.5 0 1 0 15.0 0a7.5 7.5 0 1 0 -15.0 0M1063.8 1016.2m-7.5 0a7.5 7.5 0 1 0 15.0 0a7.5 7.5 0 1 0 -15.0 0M1032.5 1025.6m-7.5 0a7.5 7.5 0 1 0 15.0 0a7.5 7.5 0 1 0 -15.0 0M1018.1 1012.5m-7.5 0a7.5 7.5 0 1 0 15.0 0a7.5 7.5 0 1 0 -15.0 0M1029.4 951.9m-7.5 0a7.5 7.5 0 1 0 15.0 0a7.5 7.5 0 1 0 -15.0 0M911.9 1028.1m-7.5 0a7.5 7.5 0 1 0 15.0 0a7.5 7.5 0 1 0 -15.0 0M904.4 1015.0m-7.5 0a7.5 7.5 0 1 0 15.0 0a7.5 7.5 0 1 0 -15.0 0M1021.0 1020.0m-7.5 0a7.5 7.5 0 1 0 15.0 0a7.5 7.5 0 1 0 -15.0 0" fill="#FF0000"/>
<circle cx="958.8" cy="942.5" r="2.0" fill="#FFFFFF"/>
<circle cx="975.2" cy="952.8" r="1.6" fill="#FFFFFF"/>
<circle cx="958.9" cy="988.9" r="2.6" fill="#FFFFFF"/>
<rect x="641.00" y="619.50" width="515.60" height="431.90" fill="none" stroke="#333333" stroke-width="2.84"/>
</g>
<g clip-path="url(#s1)"><rect x="111.00" y="29.30" width="515.30" height="46.00" fill="#D9D9D9" stroke="#333333" stroke-width="2.84"/></g>
<text x="368.65" y="60.90" font-size="23.47" fill="#1A1A1A" text-anchor="middle">log_feats</text>
<g clip-path="url(#s2)"><rect x="641.00" y="29.30" width="515.60" height="46.00" fill="#D9D9D9" stroke="#333333" stroke-width="2.84"/></g>
<text x="898.80" y="60.90" font-size="23.47" fill="#1A1A1A" text-anchor="middle">logit_mito</text>
<g clip-path="url(#s3)"><rect x="111.00" y="572.90" width="515.30" height="46.60" fill="#D9D9D9" stroke="#333333" stroke-width="2.84"/></g>
<text x="368.65" y="605.00" font-size="23.47" fill="#1A1A1A" text-anchor="middle">log_feats</text>
<g clip-path="url(#s4)"><rect x="641.00" y="572.90" width="515.60" height="46.60" fill="#D9D9D9" stroke="#333333" stroke-width="2.84"/></g>
<text x="898.80" y="605.00" font-size="23.47" fill="#1A1A1A" text-anchor="middle">logit_mito</text>
<path d="M180.30 507.50v7.8M287.66 507.50v7.8M395.02 507.50v7.8M502.38 507.50v7.8M609.74 507.50v7.8" stroke="#333333" stroke-width="2.84" fill="none"/>
<text x="180.30" y="538.70" font-size="23.47" fill="#4D4D4D" text-anchor="middle">2.0</text>
<text x="287.66" y="538.70" font-size="23.47" fill="#4D4D4D" text-anchor="middle">2.5</text>
<text x="395.02" y="538.70" font-size="23.47" fill="#4D4D4D" text-anchor="middle">3.0</text>
<text x="502.38" y="538.70" font-size="23.47" fill="#4D4D4D" text-anchor="middle">3.5</text>
<text x="609.74" y="538.70" font-size="23.47" fill="#4D4D4D" text-anchor="middle">4.0</text>
<path d="M670.90 507.50v7.8M756.30 507.50v7.8M841.70 507.50v7.8M927.10 507.50v7.8M1012.50 507.50v7.8M1097.90 507.50v7.8" stroke="#333333" stroke-width="2.84" fill="none"/>
<text x="670.90" y="538.70" font-size="23.47" fill="#4D4D4D" text-anchor="middle">-8</text>
<text x="756.30" y="538.70" font-size="23.47" fill="#4D4D4D" text-anchor="middle">-6</text>
<text x="841.70" y="538.70" font-size="23.47" fill="#4D4D4D" text-anchor="middle">-4</text>
<text x="927.10" y="538.70" font-size="23.47" fill="#4D4D4D" text-anchor="middle">-2</text>
<text x="1012.50" y="538.70" font-size="23.47" fill="#4D4D4D" text-anchor="middle">0</text>
<text x="1097.90" y="538.70" font-size="23.47" fill="#4D4D4D" text-anchor="middle">2</text>
<path d="M176.25 1051.40v7.8M296.65 1051.40v7.8M417.05 1051.40v7.8M537.45 1051.40v7.8" stroke="#333333" stroke-width="2.84" fill="none"/>
<text x="176.25" y="1082.00" font-size="23.47" fill="#4D4D4D" text-anchor="middle">2.0</text>
<text x="296.65" y="1082.00" font-size="23.47" fill="#4D4D4D" text-anchor="middle">2.5</text>
<text x="417.05" y="1082.00" font-size="23.47" fill="#4D4D4D" text-anchor="middle">3.0</text>
<text x="537.45" y="1082.00" font-size="23.47" fill="#4D4D4D" text-anchor="middle">3.5</text>
<path d="M668.50 1051.40v7.8M756.76 1051.40v7.8M845.02 1051.40v7.8M933.28 1051.40v7.8M1021.54 1051.40v7.8M1109.80 1051.40v7.8" stroke="#333333" stroke-width="2.84" fill="none"/>
<text x="668.50" y="1082.00" font-size="23.47" fill="#4D4D4D" text-anchor="middle">-8</text>
<text x="756.76" y="1082.00" font-size="23.47" fill="#4D4D4D" text-anchor="middle">-6</text>
<text x="845.02" y="1082.00" font-size="23.47" fill="#4D4D4D" text-anchor="middle">-4</text>
<text x="933.28" y="1082.00" font-size="23.47" fill="#4D4D4D" text-anchor="middle">-2</text>
<text x="1021.54" y="1082.00" font-size="23.47" fill="#4D4D4D" text-anchor="middle">0</text>
<text x="1109.80" y="1082.00" font-size="23.47" fill="#4D4D4D" text-anchor="middle">2</text>
<path d="M111.00 95.40h-7.8M111.00 173.89h-7.8M111.00 252.38h-7.8M111.00 330.87h-7.8M111.00 409.36h-7.8M111.00 487.85h-7.8" stroke="#333333" stroke-width="2.84" fill="none"/>
<text x="97.20" y="103.80" font-size="23.47" fill="#4D4D4D" text-anchor="end">5.0</text>
<text x="97.20" y="182.29" font-size="23.47" fill="#4D4D4D" text-anchor="end">4.5</text>
<text x="97.20" y="260.78" font-size="23.47" fill="#4D4D4D" text-anchor="end">4.0</text>
<text x="97.20" y="339.27" font-size="23.47" fill="#4D4D4D" text-anchor="end">3.5</text>
<text x="97.20" y="417.76" font-size="23.47" fill="#4D4D4D" text-anchor="end">3.0</text>
<text x="97.20" y="496.25" font-size="23.47" fill="#4D4D4D" text-anchor="end">2.5</text>
<path d="M111.00 655.30h-7.8M111.00 759.67h-7.8M111.00 864.04h-7.8M111.00 968.41h-7.8" stroke="#333333" stroke-width="2.84" fill="none"/>
<text x="97.20" y="663.70" font-size="23.47" fill="#4D4D4D" text-anchor="end">4.5</text>
<text x="97.20" y="768.07" font-size="23.47" fill="#4D4D4D" text-anchor="end">4.0</text>
<text x="97.20" y="872.44" font-size="23.47" fill="#4D4D4D" text-anchor="end">3.5</text>
<text x="97.20" y="976.81" font-size="23.47" fill="#4D4D4D" text-anchor="end">3.0</text>
<text x="633.8" y="1116.9" font-size="29.33" fill="#000" text-anchor="middle">other QC variable</text>
<text transform="translate(50.8 291.40) rotate(-90)" font-size="29.33" fill="#000" text-anchor="middle">log_counts</text>
<text transform="translate(50.8 835.45) rotate(-90)" font-size="29.33" fill="#000" text-anchor="middle">log_counts</text>
<text x="1200.5" y="179.7" font-size="29.33" fill="#000">count</text>
<rect x="1200.50" y="197.50" width="46.10" height="230.40" fill="url(#cb)"/>
<path d="M1200.50 274.20h9.2M1246.60 274.20h-9.2M1200.50 350.30h9.2M1246.60 350.30h-9.2M1200.50 427.50h9.2M1246.60 427.50h-9.2" stroke="#FFFFFF" stroke-width="1.4" fill="none"/>
<text x="1261.3" y="282.60" font-size="23.47" fill="#000">100</text>
<text x="1261.3" y="358.70" font-size="23.47" fill="#000">10</text>
<text x="1261.3" y="435.90" font-size="23.47" fill="#000">1</text>
</svg></body></html>
